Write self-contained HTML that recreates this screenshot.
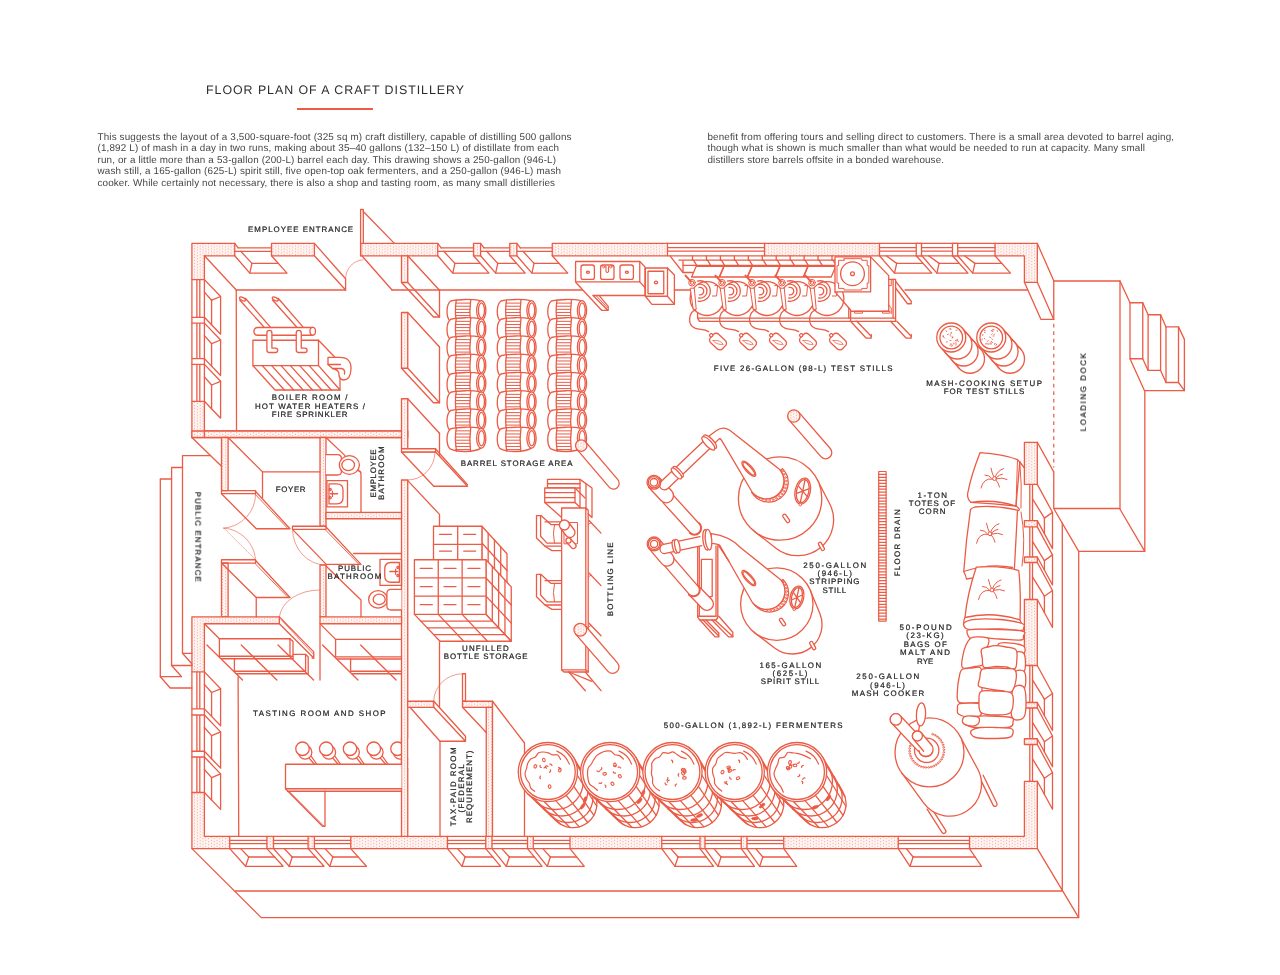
<!DOCTYPE html>
<html><head><meta charset="utf-8"><title>Floor plan of a craft distillery</title>
<style>
html,body{margin:0;padding:0;background:#fff}
body{width:1280px;height:975px;position:relative;overflow:hidden;font-family:"Liberation Sans",sans-serif;color:#333}
.title{opacity:.99;text-rendering:geometricPrecision;position:absolute;left:206px;top:82px;font-size:12.4px;letter-spacing:0.97px;color:#2b2b2b;white-space:nowrap;line-height:14px}
.rule{position:absolute;left:297px;top:108.4px;width:76px;height:1.6px;background:#EB5B45}
.body{opacity:.99;text-rendering:geometricPrecision;position:absolute;top:130.6px;font-size:9.9px;letter-spacing:0.14px;line-height:11.3px;color:#444;white-space:nowrap}
svg{position:absolute;left:0;top:0}
svg text{font-family:"Liberation Sans",sans-serif}
</style></head><body>
<div class="rule"></div>
<svg width="1280" height="975" viewBox="0 0 1280 975">
<defs>
<pattern id="dots" width="5.6" height="2.9" patternUnits="userSpaceOnUse"><rect width="5.6" height="2.9" fill="#fff4f1"/><circle cx="1.4" cy="0.72" r="0.47" fill="#EB5B45"/><circle cx="4.2" cy="2.17" r="0.47" fill="#EB5B45"/></pattern>
</defs>
<g fill="none" stroke="#EB5B45" stroke-width="1.3" stroke-linejoin="round" stroke-linecap="round">
<polygon points="191.9,243.4 234.75,243.4 234.75,255.8 204.4,255.8 204.4,279.6 191.9,279.6" fill="url(#dots)"/>
<polygon points="271.5,243.4 314.4,243.4 314.4,255.8 271.5,255.8" fill="url(#dots)"/>
<polygon points="360.6,243.4 437.75,243.4 437.75,255.8 360.6,255.8" fill="url(#dots)"/>
<polygon points="552.25,243.4 667.5,243.4 667.5,255.8 552.25,255.8" fill="url(#dots)"/>
<polygon points="764.5,243.4 879.5,243.4 879.5,255.8 764.5,255.8" fill="url(#dots)"/>
<polygon points="995,243.4 1037.3,243.4 1037.3,282.3 1024.4,282.3 1024.4,255.8 995,255.8" fill="url(#dots)"/>
<path d="M234.75 243.4L238.15 247.9"/>
<path d="M238.15 247.9L271.5 247.9"/>
<path d="M234.75 251.3L271.5 251.3"/>
<polyline points="234.75,255.8 249.75,273.1 287,273.1 271.5,255.8"/>
<path d="M240.75 251.3L251.95 263.4"/>
<path d="M251.95 263.4L278.2 263.4"/>
<path d="M251.95 263.4L249.75 273.1"/>
<path d="M437.75 243.4L441.15 247.9"/>
<path d="M441.15 247.9L473.5 247.9"/>
<path d="M437.75 251.3L473.5 251.3"/>
<polyline points="437.75,255.8 452.75,273.1 489,273.1 473.5,255.8"/>
<path d="M443.75 251.3L454.95 263.4"/>
<path d="M454.95 263.4L480.2 263.4"/>
<path d="M454.95 263.4L452.75 273.1"/>
<path d="M480.6 243.4L484 247.9"/>
<path d="M484 247.9L509.75 247.9"/>
<path d="M480.6 251.3L509.75 251.3"/>
<polyline points="480.6,255.8 495.6,273.1 525.25,273.1 509.75,255.8"/>
<path d="M486.6 251.3L497.8 263.4"/>
<path d="M497.8 263.4L516.45 263.4"/>
<path d="M497.8 263.4L495.6 273.1"/>
<path d="M516.9 243.4L520.3 247.9"/>
<path d="M520.3 247.9L552.25 247.9"/>
<path d="M516.9 251.3L552.25 251.3"/>
<polyline points="516.9,255.8 531.9,273.1 567.75,273.1 552.25,255.8"/>
<path d="M522.9 251.3L534.1 263.4"/>
<path d="M534.1 263.4L558.95 263.4"/>
<path d="M534.1 263.4L531.9 273.1"/>
<polygon points="473.5,243.4 480.6,243.4 480.6,255.8 473.5,255.8" fill="url(#dots)"/>
<polygon points="509.75,243.4 516.9,243.4 516.9,255.8 509.75,255.8" fill="url(#dots)"/>
<path d="M667.5 243.4L764.5 243.4"/>
<path d="M667.5 247.6L764.5 247.6"/>
<path d="M667.5 251.1L764.5 251.1"/>
<path d="M667.5 255.8L764.5 255.8"/>
<path d="M879.5 243.4L995 243.4"/>
<path d="M879.5 247.6L995 247.6"/>
<path d="M879.5 251.1L995 251.1"/>
<path d="M879.5 255.8L995 255.8"/>
<polygon points="916.25,243.4 921.5,243.4 921.5,255.8 916.25,255.8" fill="#fff"/>
<polygon points="952.5,243.4 957.7,243.4 957.7,255.8 952.5,255.8" fill="#fff"/>
<polygon points="191.9,401.3 204.4,401.3 204.4,437.5 191.9,437.5" fill="url(#dots)"/>
<path d="M191.9 279.6L191.9 317.3"/>
<path d="M196.9 279.6L196.9 317.3"/>
<path d="M199.8 279.6L199.8 317.3"/>
<path d="M204.4 279.6L204.4 317.3"/>
<polyline points="204.4,279.6 220.6,296.5 220.6,334.2 204.4,317.3"/>
<path d="M204.4 292.1L211.6 300.2"/>
<path d="M211.6 300.2L220.6 296.5"/>
<path d="M211.6 300.2L211.6 324.8"/>
<path d="M191.9 323.1L191.9 358.6"/>
<path d="M196.9 323.1L196.9 358.6"/>
<path d="M199.8 323.1L199.8 358.6"/>
<path d="M204.4 323.1L204.4 358.6"/>
<polyline points="204.4,323.1 220.6,340 220.6,375.5 204.4,358.6"/>
<path d="M204.4 335.6L211.6 343.7"/>
<path d="M211.6 343.7L220.6 340"/>
<path d="M211.6 343.7L211.6 366.1"/>
<path d="M191.9 364.4L191.9 401.3"/>
<path d="M196.9 364.4L196.9 401.3"/>
<path d="M199.8 364.4L199.8 401.3"/>
<path d="M204.4 364.4L204.4 401.3"/>
<polyline points="204.4,364.4 220.6,381.3 220.6,418.2 204.4,401.3"/>
<path d="M204.4 376.9L211.6 385"/>
<path d="M211.6 385L220.6 381.3"/>
<path d="M211.6 385L211.6 408.8"/>
<polygon points="191.9,317.3 204.4,317.3 204.4,323.1 191.9,323.1" fill="#fff"/>
<polygon points="191.9,358.6 204.4,358.6 204.4,364.4 191.9,364.4" fill="#fff"/>
<path d="M191.9 671.9L191.9 708.9"/>
<path d="M196.9 671.9L196.9 708.9"/>
<path d="M199.8 671.9L199.8 708.9"/>
<path d="M204.4 671.9L204.4 708.9"/>
<polyline points="204.4,671.9 220.6,688.8 220.6,725.8 204.4,708.9"/>
<path d="M204.4 684.4L211.6 692.5"/>
<path d="M211.6 692.5L220.6 688.8"/>
<path d="M211.6 692.5L211.6 716.4"/>
<path d="M191.9 715L191.9 751.25"/>
<path d="M196.9 715L196.9 751.25"/>
<path d="M199.8 715L199.8 751.25"/>
<path d="M204.4 715L204.4 751.25"/>
<polyline points="204.4,715 220.6,731.9 220.6,768.15 204.4,751.25"/>
<path d="M204.4 727.5L211.6 735.6"/>
<path d="M211.6 735.6L220.6 731.9"/>
<path d="M211.6 735.6L211.6 758.75"/>
<path d="M191.9 757L191.9 792.5"/>
<path d="M196.9 757L196.9 792.5"/>
<path d="M199.8 757L199.8 792.5"/>
<path d="M204.4 757L204.4 792.5"/>
<polyline points="204.4,757 220.6,773.9 220.6,809.4 204.4,792.5"/>
<path d="M204.4 769.5L211.6 777.6"/>
<path d="M211.6 777.6L220.6 773.9"/>
<path d="M211.6 777.6L211.6 800"/>
<polygon points="191.9,708.9 204.4,708.9 204.4,715 191.9,715" fill="#fff"/>
<polygon points="191.9,751.25 204.4,751.25 204.4,757 191.9,757" fill="#fff"/>
<polygon points="191.9,792.5 204.4,792.5 204.4,836.3 229.75,836.3 229.75,848.6 191.9,848.6" fill="url(#dots)"/>
<path d="M229.75 836.3L266.9 836.3"/>
<path d="M229.75 840.3L266.9 840.3"/>
<path d="M229.75 843.7L266.9 843.7"/>
<path d="M229.75 848.6L266.9 848.6"/>
<polyline points="229.75,848.6 245.65,866.3 283.1,866.3 266.9,848.6"/>
<path d="M240.64 848.6L248.75 857"/>
<path d="M248.75 857L274.53 857"/>
<path d="M248.75 857L245.65 866.3"/>
<path d="M273.5 836.3L308.1 836.3"/>
<path d="M273.5 840.3L308.1 840.3"/>
<path d="M273.5 843.7L308.1 843.7"/>
<path d="M273.5 848.6L308.1 848.6"/>
<polyline points="273.5,848.6 289.13,866.3 324.03,866.3 308.1,848.6"/>
<path d="M284.21 848.6L292.23 857"/>
<path d="M292.23 857L315.6 857"/>
<path d="M292.23 857L289.13 866.3"/>
<path d="M314.4 836.3L350.75 836.3"/>
<path d="M314.4 840.3L350.75 840.3"/>
<path d="M314.4 843.7L350.75 843.7"/>
<path d="M314.4 848.6L350.75 848.6"/>
<polyline points="314.4,848.6 329.78,866.3 366.43,866.3 350.75,848.6"/>
<path d="M324.93 848.6L332.88 857"/>
<path d="M332.88 857L358.13 857"/>
<path d="M332.88 857L329.78 866.3"/>
<path d="M447.5 836.3L485.75 836.3"/>
<path d="M447.5 840.3L485.75 840.3"/>
<path d="M447.5 843.7L485.75 843.7"/>
<path d="M447.5 848.6L485.75 848.6"/>
<polyline points="447.5,848.6 462.05,866.3 500.6,866.3 485.75,848.6"/>
<path d="M457.47 848.6L465.15 857"/>
<path d="M465.15 857L492.73 857"/>
<path d="M465.15 857L462.05 866.3"/>
<path d="M492 836.3L527.5 836.3"/>
<path d="M492 840.3L527.5 840.3"/>
<path d="M492 843.7L527.5 843.7"/>
<path d="M492 848.6L527.5 848.6"/>
<polyline points="492,848.6 506.28,866.3 542.08,866.3 527.5,848.6"/>
<path d="M501.78 848.6L509.38 857"/>
<path d="M509.38 857L534.35 857"/>
<path d="M509.38 857L506.28 866.3"/>
<path d="M533.25 836.3L570 836.3"/>
<path d="M533.25 840.3L570 840.3"/>
<path d="M533.25 843.7L570 843.7"/>
<path d="M533.25 848.6L570 848.6"/>
<polyline points="533.25,848.6 547.27,866.3 584.32,866.3 570,848.6"/>
<path d="M542.85 848.6L550.37 857"/>
<path d="M550.37 857L576.73 857"/>
<path d="M550.37 857L547.27 866.3"/>
<path d="M661.75 836.3L700 836.3"/>
<path d="M661.75 840.3L700 840.3"/>
<path d="M661.75 843.7L700 843.7"/>
<path d="M661.75 848.6L700 848.6"/>
<polyline points="661.75,848.6 674.97,866.3 713.52,866.3 700,848.6"/>
<path d="M670.81 848.6L678.07 857"/>
<path d="M678.07 857L706.35 857"/>
<path d="M678.07 857L674.97 866.3"/>
<path d="M705 836.3L741.25 836.3"/>
<path d="M705 840.3L741.25 840.3"/>
<path d="M705 843.7L741.25 843.7"/>
<path d="M705 848.6L741.25 848.6"/>
<polyline points="705,848.6 717.96,866.3 754.5,866.3 741.25,848.6"/>
<path d="M713.87 848.6L721.06 857"/>
<path d="M721.06 857L747.47 857"/>
<path d="M721.06 857L717.96 866.3"/>
<path d="M747 836.3L783.75 836.3"/>
<path d="M747 840.3L783.75 840.3"/>
<path d="M747 843.7L783.75 843.7"/>
<path d="M747 848.6L783.75 848.6"/>
<polyline points="747,848.6 759.69,866.3 796.74,866.3 783.75,848.6"/>
<path d="M755.7 848.6L762.79 857"/>
<path d="M762.79 857L789.84 857"/>
<path d="M762.79 857L759.69 866.3"/>
<path d="M898.25 836.3L969.5 836.3"/>
<path d="M898.25 840.3L969.5 840.3"/>
<path d="M898.25 843.7L969.5 843.7"/>
<path d="M898.25 848.6L969.5 848.6"/>
<polyline points="898.25,848.6 910.01,866.3 981.56,866.3 969.5,848.6"/>
<path d="M906.3 848.6L913.11 857"/>
<path d="M913.11 857L975.14 857"/>
<path d="M913.11 857L910.01 866.3"/>
<polygon points="266.9,836.3 273.5,836.3 273.5,848.6 266.9,848.6" fill="url(#dots)"/>
<polygon points="308.1,836.3 314.4,836.3 314.4,848.6 308.1,848.6" fill="url(#dots)"/>
<polygon points="485.75,836.3 492,836.3 492,848.6 485.75,848.6" fill="url(#dots)"/>
<polygon points="527.5,836.3 533.25,836.3 533.25,848.6 527.5,848.6" fill="url(#dots)"/>
<polygon points="700,836.3 705,836.3 705,848.6 700,848.6" fill="url(#dots)"/>
<polygon points="741.25,836.3 747,836.3 747,848.6 741.25,848.6" fill="url(#dots)"/>
<polygon points="350.75,836.3 447.5,836.3 447.5,848.6 350.75,848.6" fill="url(#dots)"/>
<polygon points="570,836.3 661.75,836.3 661.75,848.6 570,848.6" fill="url(#dots)"/>
<polygon points="783.75,836.3 898.25,836.3 898.25,848.6 783.75,848.6" fill="url(#dots)"/>
<polygon points="969.5,836.3 1024.4,836.3 1024.4,781.3 1037.3,781.3 1037.3,848.6 969.5,848.6" fill="url(#dots)"/>
<polygon points="1024.4,442.3 1037.3,442.3 1037.3,484.4 1024.4,484.4" fill="url(#dots)"/>
<path d="M1029.8 484.4L1029.8 520.6"/>
<path d="M1032.5 484.4L1032.5 520.6"/>
<polyline points="1037.3,484.4 1052.5,512.4 1052.5,548.6 1037.3,520.6"/>
<path d="M1032.5 498.8L1044.4 518.1"/>
<path d="M1044.4 518.1L1052.5 512.4"/>
<path d="M1044.4 518.1L1044.4 533.8"/>
<path d="M1029.8 526.9L1029.8 557"/>
<path d="M1032.5 526.9L1032.5 557"/>
<polyline points="1037.3,526.9 1052.5,554.9 1052.5,585 1037.3,557"/>
<path d="M1032.5 541.3L1044.4 560.6"/>
<path d="M1044.4 560.6L1052.5 554.9"/>
<path d="M1044.4 560.6L1044.4 570.2"/>
<path d="M1029.8 562.5L1029.8 599.5"/>
<path d="M1032.5 562.5L1032.5 599.5"/>
<polyline points="1037.3,562.5 1052.5,590.5 1052.5,627.5 1037.3,599.5"/>
<path d="M1032.5 576.9L1044.4 596.2"/>
<path d="M1044.4 596.2L1052.5 590.5"/>
<path d="M1044.4 596.2L1044.4 612.7"/>
<polygon points="1024.4,520.6 1037.3,520.6 1037.3,526.9 1024.4,526.9" fill="url(#dots)"/>
<polygon points="1024.4,557 1037.3,557 1037.3,562.5 1024.4,562.5" fill="url(#dots)"/>
<polygon points="1024.4,599.5 1037.3,599.5 1037.3,665.5 1024.4,665.5" fill="url(#dots)"/>
<path d="M1029.8 665.5L1029.8 702.5"/>
<path d="M1032.5 665.5L1032.5 702.5"/>
<polyline points="1037.3,665.5 1052.5,693.5 1052.5,730.5 1037.3,702.5"/>
<path d="M1032.5 679.9L1044.4 699.2"/>
<path d="M1044.4 699.2L1052.5 693.5"/>
<path d="M1044.4 699.2L1044.4 715.7"/>
<path d="M1029.8 708L1029.8 738.75"/>
<path d="M1032.5 708L1032.5 738.75"/>
<polyline points="1037.3,708 1052.5,736 1052.5,766.75 1037.3,738.75"/>
<path d="M1032.5 722.4L1044.4 741.7"/>
<path d="M1044.4 741.7L1052.5 736"/>
<path d="M1044.4 741.7L1044.4 751.95"/>
<path d="M1029.8 744.5L1029.8 781.3"/>
<path d="M1032.5 744.5L1032.5 781.3"/>
<polyline points="1037.3,744.5 1052.5,772.5 1052.5,809.3 1037.3,781.3"/>
<path d="M1032.5 758.9L1044.4 778.2"/>
<path d="M1044.4 778.2L1052.5 772.5"/>
<path d="M1044.4 778.2L1044.4 794.5"/>
<polygon points="1024.4,702.5 1037.3,702.5 1037.3,708 1024.4,708" fill="url(#dots)"/>
<polygon points="1024.4,738.75 1037.3,738.75 1037.3,744.5 1024.4,744.5" fill="url(#dots)"/>
<polyline points="191.9,848.6 261.25,917.6 1078.7,917.6 1078.7,551.3"/>
<polyline points="235,891 1062.3,891 1062.3,523"/>
<path d="M1037.3 848.6L1078.7 917.6"/>
<path d="M204.4 255.8L236.25 290"/>
<polyline points="345.6,290 236.25,290 236.5,431"/>
<polyline points="314.4,243.4 345.6,278.75 345.6,290 314.4,255.8"/>
<polyline points="360.6,255.8 360.6,209.5 363.3,209.5 363.3,243.4"/>
<path d="M363.3 211.5L394.4 243.4"/>
<path d="M345.6 278.75A18 19 0 0 1 363 259.8" stroke-width="0.6"/>
<path d="M361.9 255.8L392 290"/>
<polygon points="204.4,431 401.5,431 401.5,437.5 191.9,437.5 191.9,431" fill="url(#dots)"/>
<polygon points="204.4,431 407.75,431 407.75,437.5 204.4,437.5" fill="url(#dots)"/>
<polygon points="401.5,255.8 407.75,255.8 407.75,282.5 401.5,282.5" fill="url(#dots)"/>
<polygon points="401.5,312.5 407.75,312.5 407.75,368.25 401.5,368.25" fill="url(#dots)"/>
<polygon points="401.5,398.75 407.75,398.75 407.75,448.75 401.5,448.75" fill="url(#dots)"/>
<polygon points="401.5,480 407.75,480 407.75,836.3 401.5,836.3" fill="url(#dots)"/>
<path d="M407.75 255.8L439.5 290.3"/>
<path d="M439.5 290.3L439.5 317"/>
<polyline points="407.75,282.5 439.5,317 433.5,317 401.5,282.5"/>
<path d="M439.5 290L582 290"/>
<path d="M407.75 312.5L439.5 347"/>
<path d="M439.5 347L439.5 402.75"/>
<polyline points="407.75,368.25 439.5,402.75 433.5,402.75 401.5,368.25"/>
<path d="M407.75 398.75L439.5 433.25"/>
<path d="M439.5 433.25L439.5 483.25"/>
<polygon points="221.5,437.5 228.1,437.5 228.1,490.6 221.5,490.6" fill="url(#dots)"/>
<polygon points="221.5,563 228.1,563 228.1,616.9 221.5,616.9" fill="url(#dots)"/>
<path d="M191.9 437.5L221.5 466.25"/>
<polygon points="191.9,616.9 279.4,616.9 279.4,623.75 204.4,623.75 204.4,671.9 191.9,671.9" fill="url(#dots)"/>
<polygon points="320,437.5 326,437.5 326,526.25 320,526.25" fill="url(#dots)"/>
<polygon points="320,565 326,565 326,616.9 320,616.9" fill="url(#dots)"/>
<polygon points="326,512.4 401.5,512.4 401.5,518.75 326,518.75" fill="url(#dots)"/>
<polygon points="320,616.9 401.5,616.9 401.5,623.75 320,623.75" fill="url(#dots)"/>
<polygon points="407.75,701.25 433.75,701.25 433.75,707.3 407.75,707.3" fill="url(#dots)"/>
<polygon points="462.5,701.25 492.5,701.25 492.5,707.3 462.5,707.3" fill="url(#dots)"/>
<polygon points="486.25,707.3 492.5,707.3 492.5,836.3 486.25,836.3" fill="url(#dots)"/>
<polyline points="228.1,437.5 262.5,471.9 320,471.9"/>
<path d="M262.5 471.9L262.5 498"/>
<rect x="221.5" y="490.6" width="34.1" height="3.1"/>
<polyline points="221.5,493.7 256.25,528.75 290,528.75 255.6,491.5"/>
<path d="M254.6 493.7L288 528.75" stroke-width="0.9"/>
<path d="M255.6 493.7A34 34 0 0 1 223.75 528.1" stroke-width="0.6"/>
<path d="M223.75 528.1A34 34 0 0 1 255.6 559.75" stroke-width="0.6"/>
<path d="M223.75 528.1L255.6 559.75" stroke-width="0.5" stroke-dasharray="1.2 1.2"/>
<rect x="221.5" y="559.75" width="34.1" height="3.3"/>
<polyline points="221.5,563 256.25,597.5 290,597.5 255.6,560.5"/>
<path d="M254.6 563L288 597.5" stroke-width="0.9"/>
<polyline points="256.25,597.5 256.25,616.9"/>
<path d="M279.4 616.9A40 29 0 0 1 319.6 590" stroke-width="0.6"/>
<polyline points="210,455.6 182.5,455.6 182.5,653.3 192,664"/>
<path d="M182.5 653.3L192 653.3"/>
<polyline points="182.5,467.5 171.6,467.5 171.6,665.5 181.4,676.5"/>
<path d="M171.6 665.5L192 665.5"/>
<polyline points="171.6,479 160.3,479 160.3,676.7 170.2,688 192,688"/>
<path d="M160.3 676.7L181.4 676.7"/>
<path d="M326 437.5L345 455.6"/>
<path d="M326 454.6H337.5Q341.5 454.6 341.5 459V471Q341.5 475 337.5 475H326" fill="#fff"/>
<ellipse cx="349.4" cy="465" rx="10" ry="9.4" fill="#fff"/>
<ellipse cx="348.2" cy="465" rx="6.3" ry="5.6"/>
<path d="M358 470.5Q361 471 361 474V512.4"/>
<rect x="326.9" y="480.6" width="20.6" height="26.3"/>
<path d="M329 483.8H337Q343 483.8 343 490V497.5Q343 503.8 337 503.8H329Z"/>
<path d="M330.6 493.7L337.5 493.7" stroke-width="1.6"/>
<circle cx="330.2" cy="489.6" r="1.1"/>
<circle cx="330.2" cy="497.8" r="1.1"/>
<path d="M332.5 491L332.5 496.4" stroke-width="1.2"/>
<polygon points="401.5,452 435.6,452 467.5,486.25 433.75,486.25" fill="#fff"/>
<path d="M435.6 449L467.5 484.6"/>
<rect x="401.5" y="448.75" width="34.1" height="3.2" fill="#fff"/>
<path d="M435 452A27 28 0 0 1 408 480" stroke-width="0.6"/>
<polyline points="407.75,480.6 439.5,514.4 439.5,526.25"/>
<path d="M353.75 553.5L401.5 553.5"/>
<rect x="292.5" y="526.25" width="33.5" height="3.1"/>
<polyline points="292.5,529.4 326.25,564.4 361,564.4 326,527"/>
<path d="M325 529.4L359 564.4" stroke-width="0.9"/>
<path d="M292.5 529.4A33 36 0 0 0 326 565" stroke-width="0.6"/>
<polyline points="326,566 361,600 361,616.9"/>
<rect x="380" y="559.4" width="21.5" height="26"/>
<path d="M399.4 562.5H391Q384.75 562.5 384.75 569V576Q384.75 582.25 391 582.25H399.4Z"/>
<path d="M390 571.5L397.5 571.5" stroke-width="1.6"/>
<circle cx="397.9" cy="567.6" r="1.1"/>
<circle cx="397.9" cy="575.6" r="1.1"/>
<path d="M395.6 569L395.6 574.3" stroke-width="1.2"/>
<ellipse cx="378" cy="599.4" rx="9.4" ry="8.75" fill="#fff"/>
<ellipse cx="379.2" cy="599.4" rx="6" ry="5.25"/>
<path d="M401.5 589.4H391Q386.9 589.4 386.9 593.5V606Q386.9 610 391 610H401.5" fill="#fff"/>
<polyline points="279.4,616.9 313.75,651.9 313.75,658 279.4,623.75"/>
<path d="M281.5 620L313.75 654.5" stroke-width="0.8"/>
<path d="M312 658L313.75 658"/>
<path d="M204.4 623.75L219.4 638.75"/>
<polyline points="219.4,656.25 219.4,638.75 290,638.75 290,656.25"/>
<polyline points="290,638.75 293,641.5 293,658.75"/>
<path d="M219.4 656.25L293 656.25"/>
<path d="M221.5 658.75L293 658.75"/>
<polyline points="234.4,658.75 234.4,671.25 305.6,671.25 305.6,654.4 293,654.4"/>
<polyline points="305.6,654.4 308.2,657 308.2,673.75 236.5,673.75"/>
<path d="M206.9 645L242.5 680"/>
<path d="M241.25 645L276.85 680"/>
<path d="M278 645L313.6 680"/>
<path d="M238.1 677L238.75 836.3"/>
<path d="M320 623.75L320 680"/>
<path d="M320.6 624.4L335.6 639.4"/>
<polyline points="401.5,639.4 335.6,639.4 335.6,656.9 401.5,656.9"/>
<path d="M337.5 659L401.5 659"/>
<polyline points="350.6,659 350.6,671.25 401.5,671.25"/>
<path d="M352.5 673.75L401.5 673.75"/>
<path d="M322.5 645L358 680"/>
<path d="M360.6 645L396.1 680"/>
<path d="M308.7 757.55L314.3 764.25"/>
<path d="M310.9 755.75L316.8 764.25"/>
<circle cx="305.1" cy="752.35" r="6.75" fill="#fff"/>
<circle cx="302.5" cy="748.75" r="6.75" fill="#fff"/>
<path d="M332.45 757.55L338.05 764.25"/>
<path d="M334.65 755.75L340.55 764.25"/>
<circle cx="328.85" cy="752.35" r="6.75" fill="#fff"/>
<circle cx="326.25" cy="748.75" r="6.75" fill="#fff"/>
<path d="M356.2 757.55L361.8 764.25"/>
<path d="M358.4 755.75L364.3 764.25"/>
<circle cx="352.6" cy="752.35" r="6.75" fill="#fff"/>
<circle cx="350" cy="748.75" r="6.75" fill="#fff"/>
<path d="M379.95 757.55L385.55 764.25"/>
<path d="M382.15 755.75L388.05 764.25"/>
<circle cx="376.35" cy="752.35" r="6.75" fill="#fff"/>
<circle cx="373.75" cy="748.75" r="6.75" fill="#fff"/>
<path d="M403.7 757.55L409.3 764.25"/>
<path d="M405.9 755.75L411.8 764.25"/>
<circle cx="400.1" cy="752.35" r="6.75" fill="#fff"/>
<circle cx="397.5" cy="748.75" r="6.75" fill="#fff"/>
<rect x="401.5" y="738" width="6.25" height="30" fill="url(#dots)" stroke="none"/>
<path d="M401.5 738L401.5 768"/>
<path d="M407.75 738L407.75 768"/>
<rect x="408.4" y="738" width="8" height="30" fill="#fff" stroke="none"/>
<polyline points="401.5,764.25 285.5,764.25 285.5,788.75 401.5,788.75" fill="#fff"/>
<path d="M287.5 791.25L401.5 791.25"/>
<polyline points="285.5,788.75 322.5,826.25 325,826.25 325,791.25"/>
<path d="M289 791.25L324 826.25" stroke-width="0.8"/>
<polyline points="410,707.3 440,741.25 465.5,741.25 433.75,707.3"/>
<polyline points="433.75,701.25 465.5,736.25 465.5,741.25"/>
<path d="M440 741.25L440 836.3"/>
<rect x="462.5" y="673.75" width="3" height="27.5"/>
<path d="M433.75 701.25A28.75 27.5 0 0 1 462.5 673.75" stroke-width="0.6"/>
<path d="M462.5 707.3L486.25 732.5"/>
<polyline points="492.5,701.25 524.5,743 524.5,836.3"/>
<path d="M439.5 641.9L439.5 707"/>
<path d="M450.75 301C458.25 299 473.25 299 480.75 300.8L481.25 320.4C474.25 324.6 457.25 325 449.75 320.9C445.95 316.4 445.95 304.4 450.75 301Z" fill="#fff"/>
<ellipse cx="481.25" cy="310.5" rx="4.6" ry="9.9" fill="#fff"/>
<ellipse cx="481.45" cy="310.5" rx="3" ry="7.6"/>
<path d="M456.25 300.2Q454.45 311.4 456.55 323.4"/>
<path d="M470.75 299.7Q469.05 311.4 470.55 323.7"/>
<path d="M455.75 303.1L469.95 303.1" stroke-width="1"/>
<path d="M455.75 306.22L469.95 306.22" stroke-width="1"/>
<path d="M455.75 309.34L469.95 309.34" stroke-width="1"/>
<path d="M455.75 312.46L469.95 312.46" stroke-width="1"/>
<path d="M455.75 315.58L469.95 315.58" stroke-width="1"/>
<path d="M455.75 318.7L469.95 318.7" stroke-width="1"/>
<path d="M455.75 321.82L469.95 321.82" stroke-width="1"/>
<path d="M450.75 319.25C458.25 317.25 473.25 317.25 480.75 319.05L481.25 338.65C474.25 342.85 457.25 343.25 449.75 339.15C445.95 334.65 445.95 322.65 450.75 319.25Z" fill="#fff"/>
<ellipse cx="481.25" cy="328.75" rx="4.6" ry="9.9" fill="#fff"/>
<ellipse cx="481.45" cy="328.75" rx="3" ry="7.6"/>
<path d="M456.25 318.45Q454.45 329.65 456.55 341.65"/>
<path d="M470.75 317.95Q469.05 329.65 470.55 341.95"/>
<path d="M455.75 321.35L469.95 321.35" stroke-width="1"/>
<path d="M455.75 324.47L469.95 324.47" stroke-width="1"/>
<path d="M455.75 327.59L469.95 327.59" stroke-width="1"/>
<path d="M455.75 330.71L469.95 330.71" stroke-width="1"/>
<path d="M455.75 333.83L469.95 333.83" stroke-width="1"/>
<path d="M455.75 336.95L469.95 336.95" stroke-width="1"/>
<path d="M455.75 340.07L469.95 340.07" stroke-width="1"/>
<path d="M450.75 337.5C458.25 335.5 473.25 335.5 480.75 337.3L481.25 356.9C474.25 361.1 457.25 361.5 449.75 357.4C445.95 352.9 445.95 340.9 450.75 337.5Z" fill="#fff"/>
<ellipse cx="481.25" cy="347" rx="4.6" ry="9.9" fill="#fff"/>
<ellipse cx="481.45" cy="347" rx="3" ry="7.6"/>
<path d="M456.25 336.7Q454.45 347.9 456.55 359.9"/>
<path d="M470.75 336.2Q469.05 347.9 470.55 360.2"/>
<path d="M455.75 339.6L469.95 339.6" stroke-width="1"/>
<path d="M455.75 342.72L469.95 342.72" stroke-width="1"/>
<path d="M455.75 345.84L469.95 345.84" stroke-width="1"/>
<path d="M455.75 348.96L469.95 348.96" stroke-width="1"/>
<path d="M455.75 352.08L469.95 352.08" stroke-width="1"/>
<path d="M455.75 355.2L469.95 355.2" stroke-width="1"/>
<path d="M455.75 358.32L469.95 358.32" stroke-width="1"/>
<path d="M450.75 355.75C458.25 353.75 473.25 353.75 480.75 355.55L481.25 375.15C474.25 379.35 457.25 379.75 449.75 375.65C445.95 371.15 445.95 359.15 450.75 355.75Z" fill="#fff"/>
<ellipse cx="481.25" cy="365.25" rx="4.6" ry="9.9" fill="#fff"/>
<ellipse cx="481.45" cy="365.25" rx="3" ry="7.6"/>
<path d="M456.25 354.95Q454.45 366.15 456.55 378.15"/>
<path d="M470.75 354.45Q469.05 366.15 470.55 378.45"/>
<path d="M455.75 357.85L469.95 357.85" stroke-width="1"/>
<path d="M455.75 360.97L469.95 360.97" stroke-width="1"/>
<path d="M455.75 364.09L469.95 364.09" stroke-width="1"/>
<path d="M455.75 367.21L469.95 367.21" stroke-width="1"/>
<path d="M455.75 370.33L469.95 370.33" stroke-width="1"/>
<path d="M455.75 373.45L469.95 373.45" stroke-width="1"/>
<path d="M455.75 376.57L469.95 376.57" stroke-width="1"/>
<path d="M450.75 374C458.25 372 473.25 372 480.75 373.8L481.25 393.4C474.25 397.6 457.25 398 449.75 393.9C445.95 389.4 445.95 377.4 450.75 374Z" fill="#fff"/>
<ellipse cx="481.25" cy="383.5" rx="4.6" ry="9.9" fill="#fff"/>
<ellipse cx="481.45" cy="383.5" rx="3" ry="7.6"/>
<path d="M456.25 373.2Q454.45 384.4 456.55 396.4"/>
<path d="M470.75 372.7Q469.05 384.4 470.55 396.7"/>
<path d="M455.75 376.1L469.95 376.1" stroke-width="1"/>
<path d="M455.75 379.22L469.95 379.22" stroke-width="1"/>
<path d="M455.75 382.34L469.95 382.34" stroke-width="1"/>
<path d="M455.75 385.46L469.95 385.46" stroke-width="1"/>
<path d="M455.75 388.58L469.95 388.58" stroke-width="1"/>
<path d="M455.75 391.7L469.95 391.7" stroke-width="1"/>
<path d="M455.75 394.82L469.95 394.82" stroke-width="1"/>
<path d="M450.75 392.25C458.25 390.25 473.25 390.25 480.75 392.05L481.25 411.65C474.25 415.85 457.25 416.25 449.75 412.15C445.95 407.65 445.95 395.65 450.75 392.25Z" fill="#fff"/>
<ellipse cx="481.25" cy="401.75" rx="4.6" ry="9.9" fill="#fff"/>
<ellipse cx="481.45" cy="401.75" rx="3" ry="7.6"/>
<path d="M456.25 391.45Q454.45 402.65 456.55 414.65"/>
<path d="M470.75 390.95Q469.05 402.65 470.55 414.95"/>
<path d="M455.75 394.35L469.95 394.35" stroke-width="1"/>
<path d="M455.75 397.47L469.95 397.47" stroke-width="1"/>
<path d="M455.75 400.59L469.95 400.59" stroke-width="1"/>
<path d="M455.75 403.71L469.95 403.71" stroke-width="1"/>
<path d="M455.75 406.83L469.95 406.83" stroke-width="1"/>
<path d="M455.75 409.95L469.95 409.95" stroke-width="1"/>
<path d="M455.75 413.07L469.95 413.07" stroke-width="1"/>
<path d="M450.75 410.5C458.25 408.5 473.25 408.5 480.75 410.3L481.25 429.9C474.25 434.1 457.25 434.5 449.75 430.4C445.95 425.9 445.95 413.9 450.75 410.5Z" fill="#fff"/>
<ellipse cx="481.25" cy="420" rx="4.6" ry="9.9" fill="#fff"/>
<ellipse cx="481.45" cy="420" rx="3" ry="7.6"/>
<path d="M456.25 409.7Q454.45 420.9 456.55 432.9"/>
<path d="M470.75 409.2Q469.05 420.9 470.55 433.2"/>
<path d="M455.75 412.6L469.95 412.6" stroke-width="1"/>
<path d="M455.75 415.72L469.95 415.72" stroke-width="1"/>
<path d="M455.75 418.84L469.95 418.84" stroke-width="1"/>
<path d="M455.75 421.96L469.95 421.96" stroke-width="1"/>
<path d="M455.75 425.08L469.95 425.08" stroke-width="1"/>
<path d="M455.75 428.2L469.95 428.2" stroke-width="1"/>
<path d="M455.75 431.32L469.95 431.32" stroke-width="1"/>
<path d="M450.75 428.75C458.25 426.75 473.25 426.75 480.75 428.55L481.25 448.15C474.25 452.35 457.25 452.75 449.75 448.65C445.95 444.15 445.95 432.15 450.75 428.75Z" fill="#fff"/>
<ellipse cx="481.25" cy="438.25" rx="4.6" ry="9.9" fill="#fff"/>
<ellipse cx="481.45" cy="438.25" rx="3" ry="7.6"/>
<path d="M456.25 427.95Q454.45 439.15 456.55 451.15"/>
<path d="M470.75 427.45Q469.05 439.15 470.55 451.45"/>
<path d="M455.75 430.85L469.95 430.85" stroke-width="1"/>
<path d="M455.75 433.97L469.95 433.97" stroke-width="1"/>
<path d="M455.75 437.09L469.95 437.09" stroke-width="1"/>
<path d="M455.75 440.21L469.95 440.21" stroke-width="1"/>
<path d="M455.75 443.33L469.95 443.33" stroke-width="1"/>
<path d="M455.75 446.45L469.95 446.45" stroke-width="1"/>
<path d="M455.75 449.57L469.95 449.57" stroke-width="1"/>
<path d="M501 301C508.5 299 523.5 299 531 300.8L531.5 320.4C524.5 324.6 507.5 325 500 320.9C496.2 316.4 496.2 304.4 501 301Z" fill="#fff"/>
<ellipse cx="531.5" cy="310.5" rx="4.6" ry="9.9" fill="#fff"/>
<ellipse cx="531.7" cy="310.5" rx="3" ry="7.6"/>
<path d="M506.5 300.2Q504.7 311.4 506.8 323.4"/>
<path d="M521 299.7Q519.3 311.4 520.8 323.7"/>
<path d="M506 303.1L520.2 303.1" stroke-width="1"/>
<path d="M506 306.22L520.2 306.22" stroke-width="1"/>
<path d="M506 309.34L520.2 309.34" stroke-width="1"/>
<path d="M506 312.46L520.2 312.46" stroke-width="1"/>
<path d="M506 315.58L520.2 315.58" stroke-width="1"/>
<path d="M506 318.7L520.2 318.7" stroke-width="1"/>
<path d="M506 321.82L520.2 321.82" stroke-width="1"/>
<path d="M501 319.25C508.5 317.25 523.5 317.25 531 319.05L531.5 338.65C524.5 342.85 507.5 343.25 500 339.15C496.2 334.65 496.2 322.65 501 319.25Z" fill="#fff"/>
<ellipse cx="531.5" cy="328.75" rx="4.6" ry="9.9" fill="#fff"/>
<ellipse cx="531.7" cy="328.75" rx="3" ry="7.6"/>
<path d="M506.5 318.45Q504.7 329.65 506.8 341.65"/>
<path d="M521 317.95Q519.3 329.65 520.8 341.95"/>
<path d="M506 321.35L520.2 321.35" stroke-width="1"/>
<path d="M506 324.47L520.2 324.47" stroke-width="1"/>
<path d="M506 327.59L520.2 327.59" stroke-width="1"/>
<path d="M506 330.71L520.2 330.71" stroke-width="1"/>
<path d="M506 333.83L520.2 333.83" stroke-width="1"/>
<path d="M506 336.95L520.2 336.95" stroke-width="1"/>
<path d="M506 340.07L520.2 340.07" stroke-width="1"/>
<path d="M501 337.5C508.5 335.5 523.5 335.5 531 337.3L531.5 356.9C524.5 361.1 507.5 361.5 500 357.4C496.2 352.9 496.2 340.9 501 337.5Z" fill="#fff"/>
<ellipse cx="531.5" cy="347" rx="4.6" ry="9.9" fill="#fff"/>
<ellipse cx="531.7" cy="347" rx="3" ry="7.6"/>
<path d="M506.5 336.7Q504.7 347.9 506.8 359.9"/>
<path d="M521 336.2Q519.3 347.9 520.8 360.2"/>
<path d="M506 339.6L520.2 339.6" stroke-width="1"/>
<path d="M506 342.72L520.2 342.72" stroke-width="1"/>
<path d="M506 345.84L520.2 345.84" stroke-width="1"/>
<path d="M506 348.96L520.2 348.96" stroke-width="1"/>
<path d="M506 352.08L520.2 352.08" stroke-width="1"/>
<path d="M506 355.2L520.2 355.2" stroke-width="1"/>
<path d="M506 358.32L520.2 358.32" stroke-width="1"/>
<path d="M501 355.75C508.5 353.75 523.5 353.75 531 355.55L531.5 375.15C524.5 379.35 507.5 379.75 500 375.65C496.2 371.15 496.2 359.15 501 355.75Z" fill="#fff"/>
<ellipse cx="531.5" cy="365.25" rx="4.6" ry="9.9" fill="#fff"/>
<ellipse cx="531.7" cy="365.25" rx="3" ry="7.6"/>
<path d="M506.5 354.95Q504.7 366.15 506.8 378.15"/>
<path d="M521 354.45Q519.3 366.15 520.8 378.45"/>
<path d="M506 357.85L520.2 357.85" stroke-width="1"/>
<path d="M506 360.97L520.2 360.97" stroke-width="1"/>
<path d="M506 364.09L520.2 364.09" stroke-width="1"/>
<path d="M506 367.21L520.2 367.21" stroke-width="1"/>
<path d="M506 370.33L520.2 370.33" stroke-width="1"/>
<path d="M506 373.45L520.2 373.45" stroke-width="1"/>
<path d="M506 376.57L520.2 376.57" stroke-width="1"/>
<path d="M501 374C508.5 372 523.5 372 531 373.8L531.5 393.4C524.5 397.6 507.5 398 500 393.9C496.2 389.4 496.2 377.4 501 374Z" fill="#fff"/>
<ellipse cx="531.5" cy="383.5" rx="4.6" ry="9.9" fill="#fff"/>
<ellipse cx="531.7" cy="383.5" rx="3" ry="7.6"/>
<path d="M506.5 373.2Q504.7 384.4 506.8 396.4"/>
<path d="M521 372.7Q519.3 384.4 520.8 396.7"/>
<path d="M506 376.1L520.2 376.1" stroke-width="1"/>
<path d="M506 379.22L520.2 379.22" stroke-width="1"/>
<path d="M506 382.34L520.2 382.34" stroke-width="1"/>
<path d="M506 385.46L520.2 385.46" stroke-width="1"/>
<path d="M506 388.58L520.2 388.58" stroke-width="1"/>
<path d="M506 391.7L520.2 391.7" stroke-width="1"/>
<path d="M506 394.82L520.2 394.82" stroke-width="1"/>
<path d="M501 392.25C508.5 390.25 523.5 390.25 531 392.05L531.5 411.65C524.5 415.85 507.5 416.25 500 412.15C496.2 407.65 496.2 395.65 501 392.25Z" fill="#fff"/>
<ellipse cx="531.5" cy="401.75" rx="4.6" ry="9.9" fill="#fff"/>
<ellipse cx="531.7" cy="401.75" rx="3" ry="7.6"/>
<path d="M506.5 391.45Q504.7 402.65 506.8 414.65"/>
<path d="M521 390.95Q519.3 402.65 520.8 414.95"/>
<path d="M506 394.35L520.2 394.35" stroke-width="1"/>
<path d="M506 397.47L520.2 397.47" stroke-width="1"/>
<path d="M506 400.59L520.2 400.59" stroke-width="1"/>
<path d="M506 403.71L520.2 403.71" stroke-width="1"/>
<path d="M506 406.83L520.2 406.83" stroke-width="1"/>
<path d="M506 409.95L520.2 409.95" stroke-width="1"/>
<path d="M506 413.07L520.2 413.07" stroke-width="1"/>
<path d="M501 410.5C508.5 408.5 523.5 408.5 531 410.3L531.5 429.9C524.5 434.1 507.5 434.5 500 430.4C496.2 425.9 496.2 413.9 501 410.5Z" fill="#fff"/>
<ellipse cx="531.5" cy="420" rx="4.6" ry="9.9" fill="#fff"/>
<ellipse cx="531.7" cy="420" rx="3" ry="7.6"/>
<path d="M506.5 409.7Q504.7 420.9 506.8 432.9"/>
<path d="M521 409.2Q519.3 420.9 520.8 433.2"/>
<path d="M506 412.6L520.2 412.6" stroke-width="1"/>
<path d="M506 415.72L520.2 415.72" stroke-width="1"/>
<path d="M506 418.84L520.2 418.84" stroke-width="1"/>
<path d="M506 421.96L520.2 421.96" stroke-width="1"/>
<path d="M506 425.08L520.2 425.08" stroke-width="1"/>
<path d="M506 428.2L520.2 428.2" stroke-width="1"/>
<path d="M506 431.32L520.2 431.32" stroke-width="1"/>
<path d="M501 428.75C508.5 426.75 523.5 426.75 531 428.55L531.5 448.15C524.5 452.35 507.5 452.75 500 448.65C496.2 444.15 496.2 432.15 501 428.75Z" fill="#fff"/>
<ellipse cx="531.5" cy="438.25" rx="4.6" ry="9.9" fill="#fff"/>
<ellipse cx="531.7" cy="438.25" rx="3" ry="7.6"/>
<path d="M506.5 427.95Q504.7 439.15 506.8 451.15"/>
<path d="M521 427.45Q519.3 439.15 520.8 451.45"/>
<path d="M506 430.85L520.2 430.85" stroke-width="1"/>
<path d="M506 433.97L520.2 433.97" stroke-width="1"/>
<path d="M506 437.09L520.2 437.09" stroke-width="1"/>
<path d="M506 440.21L520.2 440.21" stroke-width="1"/>
<path d="M506 443.33L520.2 443.33" stroke-width="1"/>
<path d="M506 446.45L520.2 446.45" stroke-width="1"/>
<path d="M506 449.57L520.2 449.57" stroke-width="1"/>
<path d="M551.5 301C559 299 574 299 581.5 300.8L582 320.4C575 324.6 558 325 550.5 320.9C546.7 316.4 546.7 304.4 551.5 301Z" fill="#fff"/>
<ellipse cx="582" cy="310.5" rx="4.6" ry="9.9" fill="#fff"/>
<ellipse cx="582.2" cy="310.5" rx="3" ry="7.6"/>
<path d="M557 300.2Q555.2 311.4 557.3 323.4"/>
<path d="M571.5 299.7Q569.8 311.4 571.3 323.7"/>
<path d="M556.5 303.1L570.7 303.1" stroke-width="1"/>
<path d="M556.5 306.22L570.7 306.22" stroke-width="1"/>
<path d="M556.5 309.34L570.7 309.34" stroke-width="1"/>
<path d="M556.5 312.46L570.7 312.46" stroke-width="1"/>
<path d="M556.5 315.58L570.7 315.58" stroke-width="1"/>
<path d="M556.5 318.7L570.7 318.7" stroke-width="1"/>
<path d="M556.5 321.82L570.7 321.82" stroke-width="1"/>
<path d="M551.5 319.25C559 317.25 574 317.25 581.5 319.05L582 338.65C575 342.85 558 343.25 550.5 339.15C546.7 334.65 546.7 322.65 551.5 319.25Z" fill="#fff"/>
<ellipse cx="582" cy="328.75" rx="4.6" ry="9.9" fill="#fff"/>
<ellipse cx="582.2" cy="328.75" rx="3" ry="7.6"/>
<path d="M557 318.45Q555.2 329.65 557.3 341.65"/>
<path d="M571.5 317.95Q569.8 329.65 571.3 341.95"/>
<path d="M556.5 321.35L570.7 321.35" stroke-width="1"/>
<path d="M556.5 324.47L570.7 324.47" stroke-width="1"/>
<path d="M556.5 327.59L570.7 327.59" stroke-width="1"/>
<path d="M556.5 330.71L570.7 330.71" stroke-width="1"/>
<path d="M556.5 333.83L570.7 333.83" stroke-width="1"/>
<path d="M556.5 336.95L570.7 336.95" stroke-width="1"/>
<path d="M556.5 340.07L570.7 340.07" stroke-width="1"/>
<path d="M551.5 337.5C559 335.5 574 335.5 581.5 337.3L582 356.9C575 361.1 558 361.5 550.5 357.4C546.7 352.9 546.7 340.9 551.5 337.5Z" fill="#fff"/>
<ellipse cx="582" cy="347" rx="4.6" ry="9.9" fill="#fff"/>
<ellipse cx="582.2" cy="347" rx="3" ry="7.6"/>
<path d="M557 336.7Q555.2 347.9 557.3 359.9"/>
<path d="M571.5 336.2Q569.8 347.9 571.3 360.2"/>
<path d="M556.5 339.6L570.7 339.6" stroke-width="1"/>
<path d="M556.5 342.72L570.7 342.72" stroke-width="1"/>
<path d="M556.5 345.84L570.7 345.84" stroke-width="1"/>
<path d="M556.5 348.96L570.7 348.96" stroke-width="1"/>
<path d="M556.5 352.08L570.7 352.08" stroke-width="1"/>
<path d="M556.5 355.2L570.7 355.2" stroke-width="1"/>
<path d="M556.5 358.32L570.7 358.32" stroke-width="1"/>
<path d="M551.5 355.75C559 353.75 574 353.75 581.5 355.55L582 375.15C575 379.35 558 379.75 550.5 375.65C546.7 371.15 546.7 359.15 551.5 355.75Z" fill="#fff"/>
<ellipse cx="582" cy="365.25" rx="4.6" ry="9.9" fill="#fff"/>
<ellipse cx="582.2" cy="365.25" rx="3" ry="7.6"/>
<path d="M557 354.95Q555.2 366.15 557.3 378.15"/>
<path d="M571.5 354.45Q569.8 366.15 571.3 378.45"/>
<path d="M556.5 357.85L570.7 357.85" stroke-width="1"/>
<path d="M556.5 360.97L570.7 360.97" stroke-width="1"/>
<path d="M556.5 364.09L570.7 364.09" stroke-width="1"/>
<path d="M556.5 367.21L570.7 367.21" stroke-width="1"/>
<path d="M556.5 370.33L570.7 370.33" stroke-width="1"/>
<path d="M556.5 373.45L570.7 373.45" stroke-width="1"/>
<path d="M556.5 376.57L570.7 376.57" stroke-width="1"/>
<path d="M551.5 374C559 372 574 372 581.5 373.8L582 393.4C575 397.6 558 398 550.5 393.9C546.7 389.4 546.7 377.4 551.5 374Z" fill="#fff"/>
<ellipse cx="582" cy="383.5" rx="4.6" ry="9.9" fill="#fff"/>
<ellipse cx="582.2" cy="383.5" rx="3" ry="7.6"/>
<path d="M557 373.2Q555.2 384.4 557.3 396.4"/>
<path d="M571.5 372.7Q569.8 384.4 571.3 396.7"/>
<path d="M556.5 376.1L570.7 376.1" stroke-width="1"/>
<path d="M556.5 379.22L570.7 379.22" stroke-width="1"/>
<path d="M556.5 382.34L570.7 382.34" stroke-width="1"/>
<path d="M556.5 385.46L570.7 385.46" stroke-width="1"/>
<path d="M556.5 388.58L570.7 388.58" stroke-width="1"/>
<path d="M556.5 391.7L570.7 391.7" stroke-width="1"/>
<path d="M556.5 394.82L570.7 394.82" stroke-width="1"/>
<path d="M551.5 392.25C559 390.25 574 390.25 581.5 392.05L582 411.65C575 415.85 558 416.25 550.5 412.15C546.7 407.65 546.7 395.65 551.5 392.25Z" fill="#fff"/>
<ellipse cx="582" cy="401.75" rx="4.6" ry="9.9" fill="#fff"/>
<ellipse cx="582.2" cy="401.75" rx="3" ry="7.6"/>
<path d="M557 391.45Q555.2 402.65 557.3 414.65"/>
<path d="M571.5 390.95Q569.8 402.65 571.3 414.95"/>
<path d="M556.5 394.35L570.7 394.35" stroke-width="1"/>
<path d="M556.5 397.47L570.7 397.47" stroke-width="1"/>
<path d="M556.5 400.59L570.7 400.59" stroke-width="1"/>
<path d="M556.5 403.71L570.7 403.71" stroke-width="1"/>
<path d="M556.5 406.83L570.7 406.83" stroke-width="1"/>
<path d="M556.5 409.95L570.7 409.95" stroke-width="1"/>
<path d="M556.5 413.07L570.7 413.07" stroke-width="1"/>
<path d="M551.5 410.5C559 408.5 574 408.5 581.5 410.3L582 429.9C575 434.1 558 434.5 550.5 430.4C546.7 425.9 546.7 413.9 551.5 410.5Z" fill="#fff"/>
<ellipse cx="582" cy="420" rx="4.6" ry="9.9" fill="#fff"/>
<ellipse cx="582.2" cy="420" rx="3" ry="7.6"/>
<path d="M557 409.7Q555.2 420.9 557.3 432.9"/>
<path d="M571.5 409.2Q569.8 420.9 571.3 433.2"/>
<path d="M556.5 412.6L570.7 412.6" stroke-width="1"/>
<path d="M556.5 415.72L570.7 415.72" stroke-width="1"/>
<path d="M556.5 418.84L570.7 418.84" stroke-width="1"/>
<path d="M556.5 421.96L570.7 421.96" stroke-width="1"/>
<path d="M556.5 425.08L570.7 425.08" stroke-width="1"/>
<path d="M556.5 428.2L570.7 428.2" stroke-width="1"/>
<path d="M556.5 431.32L570.7 431.32" stroke-width="1"/>
<path d="M551.5 428.75C559 426.75 574 426.75 581.5 428.55L582 448.15C575 452.35 558 452.75 550.5 448.65C546.7 444.15 546.7 432.15 551.5 428.75Z" fill="#fff"/>
<ellipse cx="582" cy="438.25" rx="4.6" ry="9.9" fill="#fff"/>
<ellipse cx="582.2" cy="438.25" rx="3" ry="7.6"/>
<path d="M557 427.95Q555.2 439.15 557.3 451.15"/>
<path d="M571.5 427.45Q569.8 439.15 571.3 451.45"/>
<path d="M556.5 430.85L570.7 430.85" stroke-width="1"/>
<path d="M556.5 433.97L570.7 433.97" stroke-width="1"/>
<path d="M556.5 437.09L570.7 437.09" stroke-width="1"/>
<path d="M556.5 440.21L570.7 440.21" stroke-width="1"/>
<path d="M556.5 443.33L570.7 443.33" stroke-width="1"/>
<path d="M556.5 446.45L570.7 446.45" stroke-width="1"/>
<path d="M556.5 449.57L570.7 449.57" stroke-width="1"/>
<polygon points="575.6,261.5 639.75,261.5 639.75,281.9 575.6,281.9"/>
<polyline points="639.75,261.5 645,266.9 645,295"/>
<path d="M639.75 281.9L645 287.5"/>
<path d="M593.1 295.5L645 295.5"/>
<path d="M575.9 282.5L601.6 310.3"/>
<polyline points="593.1,295.5 607.7,310.3 601.6,310.3"/>
<path d="M596.2 295.7L607.3 307.7" stroke-width="1"/>
<polyline points="599.2,295.7 608.2,306.3 608.2,310.3 607.7,310.3"/>
<rect x="581" y="265" width="13.4" height="14.4" rx="2.2"/>
<rect x="600.6" y="265" width="13.4" height="14.4" rx="2.2"/>
<rect x="620" y="265" width="13.4" height="14.4" rx="2.2"/>
<ellipse cx="587.9" cy="272.3" rx="1.5" ry="1.1"/>
<ellipse cx="626.9" cy="272.3" rx="1.5" ry="1.1"/>
<path d="M606 266.5V271.5Q607.3 273.5 608.6 271.5V266.5" stroke-width="1.1"/>
<circle cx="603.8" cy="266.8" r="1.2" stroke-width="0.9"/>
<circle cx="610.8" cy="266.8" r="1.2" stroke-width="0.9"/>
<polygon points="645.4,268 667.5,268 667.5,296.25 645.4,296.25"/>
<rect x="648" y="271.25" width="15.75" height="22.5"/>
<ellipse cx="656" cy="282.5" rx="1.6" ry="1.4"/>
<polyline points="667.5,268 674.4,275 674.4,304.4 651.9,304.4 645.4,296.25"/>
<path d="M667.5 296.25L674.4 304.4"/>
<path d="M674.4 290L690 290"/>
<path d="M670 255.8L683 272.5"/>
<polyline points="683,261 683,272.5 692.5,272.5"/>
<path d="M679 260.2L835 260.2"/>
<path d="M683 265.3L835 265.3"/>
<path d="M692.5 255.8L692.5 260.2"/>
<path d="M693.5 260.2L696.7 265.3"/>
<path d="M706.45 255.8L706.45 260.2"/>
<path d="M707.45 260.2L710.65 265.3"/>
<path d="M720.4 255.8L720.4 260.2"/>
<path d="M721.4 260.2L724.6 265.3"/>
<path d="M734.35 255.8L734.35 260.2"/>
<path d="M735.35 260.2L738.55 265.3"/>
<path d="M748.3 255.8L748.3 260.2"/>
<path d="M749.3 260.2L752.5 265.3"/>
<path d="M762.25 255.8L762.25 260.2"/>
<path d="M763.25 260.2L766.45 265.3"/>
<path d="M776.2 255.8L776.2 260.2"/>
<path d="M777.2 260.2L780.4 265.3"/>
<path d="M790.15 255.8L790.15 260.2"/>
<path d="M791.15 260.2L794.35 265.3"/>
<path d="M804.1 255.8L804.1 260.2"/>
<path d="M805.1 260.2L808.3 265.3"/>
<path d="M818.05 255.8L818.05 260.2"/>
<path d="M819.05 260.2L822.25 265.3"/>
<path d="M832 255.8L832 260.2"/>
<path d="M833 260.2L836.2 265.3"/>
<path d="M697.6 318.1L895.6 318.1"/>
<path d="M699.5 321.3L895.6 321.3"/>
<polyline points="697.6,306 697.6,318.1 699.5,321.3"/>
<circle cx="827" cy="298.6" r="16.9" fill="#fff"/>
<path d="M819.03 287.48A3.75 3.75 0 1 1 819.35 294.79"/>
<path d="M818.19 284.34A7 7 0 1 1 818.78 297.99"/>
<path d="M817.33 281.15A10.3 10.3 0 1 1 818.21 301.24"/>
<polyline points="834.8,285.6 837.6,285.6 836.6,296 832.4,296" stroke-width="1"/>
<circle cx="797" cy="298.6" r="16.9" fill="#fff"/>
<path d="M789.03 287.48A3.75 3.75 0 1 1 789.35 294.79"/>
<path d="M788.19 284.34A7 7 0 1 1 788.78 297.99"/>
<path d="M787.33 281.15A10.3 10.3 0 1 1 788.21 301.24"/>
<polyline points="804.8,285.6 807.6,285.6 806.6,296 802.4,296" stroke-width="1"/>
<circle cx="767" cy="298.6" r="16.9" fill="#fff"/>
<path d="M759.03 287.48A3.75 3.75 0 1 1 759.35 294.79"/>
<path d="M758.19 284.34A7 7 0 1 1 758.78 297.99"/>
<path d="M757.33 281.15A10.3 10.3 0 1 1 758.21 301.24"/>
<polyline points="774.8,285.6 777.6,285.6 776.6,296 772.4,296" stroke-width="1"/>
<circle cx="737" cy="298.6" r="16.9" fill="#fff"/>
<path d="M729.03 287.48A3.75 3.75 0 1 1 729.35 294.79"/>
<path d="M728.19 284.34A7 7 0 1 1 728.78 297.99"/>
<path d="M727.33 281.15A10.3 10.3 0 1 1 728.21 301.24"/>
<polyline points="744.8,285.6 747.6,285.6 746.6,296 742.4,296" stroke-width="1"/>
<circle cx="707" cy="298.6" r="16.9" fill="#fff"/>
<path d="M699.03 287.48A3.75 3.75 0 1 1 699.35 294.79"/>
<path d="M698.19 284.34A7 7 0 1 1 698.78 297.99"/>
<path d="M697.33 281.15A10.3 10.3 0 1 1 698.21 301.24"/>
<polyline points="714.8,285.6 717.6,285.6 716.6,296 712.4,296" stroke-width="1"/>
<polygon points="696.2,266.25 723.8,266.25 719.2,277 691.6,277" fill="#fff"/>
<polygon points="724.2,266.25 751.8,266.25 747.2,277 719.6,277" fill="#fff"/>
<polygon points="752.2,266.25 779.8,266.25 775.2,277 747.6,277" fill="#fff"/>
<polygon points="780.2,266.25 807.8,266.25 803.2,277 775.6,277" fill="#fff"/>
<polygon points="808.2,266.25 835.8,266.25 831.2,277 803.6,277" fill="#fff"/>
<polygon points="690.6,288.2 694.3,288.2 696.2,309.2 693.6,309.6" fill="#fff" stroke-width="1"/>
<circle cx="692" cy="282.7" r="3.3" fill="#fff" stroke-width="1"/>
<circle cx="692" cy="282.7" r="1.7" stroke-width="1"/>
<path d="M685.5 275.6L691 281.6" stroke-width="2"/>
<path d="M695.8 309.8C688.5 312 687 325 695 328.2C700 330 704 328.5 708.6 331.6"/>
<g transform="translate(718 341.6) rotate(43)"><rect x="-8.2" y="-5.8" width="16.4" height="11.6" rx="3.6" fill="#fff"/><circle cx="-9.3" cy="0" r="1.6" fill="#fff"/><path d="M-4.5 2.6Q0.5 -3.2 5.8 -1.5Q1 3.6 -4.5 2.6" stroke-width="0.7"/></g>
<polygon points="720.6,288.2 724.3,288.2 726.2,309.2 723.6,309.6" fill="#fff" stroke-width="1"/>
<circle cx="722" cy="282.7" r="3.3" fill="#fff" stroke-width="1"/>
<circle cx="722" cy="282.7" r="1.7" stroke-width="1"/>
<path d="M715.5 275.6L721 281.6" stroke-width="2"/>
<path d="M725.8 309.8C718.5 312 717 325 725 328.2C730 330 734 328.5 738.6 331.6"/>
<g transform="translate(748 341.6) rotate(43)"><rect x="-8.2" y="-5.8" width="16.4" height="11.6" rx="3.6" fill="#fff"/><circle cx="-9.3" cy="0" r="1.6" fill="#fff"/><path d="M-4.5 2.6Q0.5 -3.2 5.8 -1.5Q1 3.6 -4.5 2.6" stroke-width="0.7"/></g>
<polygon points="750.6,288.2 754.3,288.2 756.2,309.2 753.6,309.6" fill="#fff" stroke-width="1"/>
<circle cx="752" cy="282.7" r="3.3" fill="#fff" stroke-width="1"/>
<circle cx="752" cy="282.7" r="1.7" stroke-width="1"/>
<path d="M745.5 275.6L751 281.6" stroke-width="2"/>
<path d="M755.8 309.8C748.5 312 747 325 755 328.2C760 330 764 328.5 768.6 331.6"/>
<g transform="translate(778 341.6) rotate(43)"><rect x="-8.2" y="-5.8" width="16.4" height="11.6" rx="3.6" fill="#fff"/><circle cx="-9.3" cy="0" r="1.6" fill="#fff"/><path d="M-4.5 2.6Q0.5 -3.2 5.8 -1.5Q1 3.6 -4.5 2.6" stroke-width="0.7"/></g>
<polygon points="780.6,288.2 784.3,288.2 786.2,309.2 783.6,309.6" fill="#fff" stroke-width="1"/>
<circle cx="782" cy="282.7" r="3.3" fill="#fff" stroke-width="1"/>
<circle cx="782" cy="282.7" r="1.7" stroke-width="1"/>
<path d="M775.5 275.6L781 281.6" stroke-width="2"/>
<path d="M785.8 309.8C778.5 312 777 325 785 328.2C790 330 794 328.5 798.6 331.6"/>
<g transform="translate(808 341.6) rotate(43)"><rect x="-8.2" y="-5.8" width="16.4" height="11.6" rx="3.6" fill="#fff"/><circle cx="-9.3" cy="0" r="1.6" fill="#fff"/><path d="M-4.5 2.6Q0.5 -3.2 5.8 -1.5Q1 3.6 -4.5 2.6" stroke-width="0.7"/></g>
<polygon points="810.6,288.2 814.3,288.2 816.2,309.2 813.6,309.6" fill="#fff" stroke-width="1"/>
<circle cx="812" cy="282.7" r="3.3" fill="#fff" stroke-width="1"/>
<circle cx="812" cy="282.7" r="1.7" stroke-width="1"/>
<path d="M805.5 275.6L811 281.6" stroke-width="2"/>
<path d="M815.8 309.8C808.5 312 807 325 815 328.2C820 330 824 328.5 828.6 331.6"/>
<g transform="translate(838 341.6) rotate(43)"><rect x="-8.2" y="-5.8" width="16.4" height="11.6" rx="3.6" fill="#fff"/><circle cx="-9.3" cy="0" r="1.6" fill="#fff"/><path d="M-4.5 2.6Q0.5 -3.2 5.8 -1.5Q1 3.6 -4.5 2.6" stroke-width="0.7"/></g>
<polygon points="835,256.9 870.6,256.9 870.6,291.9 835,291.9" fill="#fff"/>
<polygon points="844,258.7 861.8,258.7 861.8,260.3 867.2,260.3 867.2,265.7 868.8,265.7 868.8,283 867.2,283 867.2,288.4 861.8,288.4 861.8,290 844,290 844,288.4 838.6,288.4 838.6,283 837,283 837,265.7 838.6,265.7 838.6,260.3 844,260.3" stroke-width="1"/>
<circle cx="852.5" cy="273.75" r="11.9"/>
<circle cx="852.5" cy="273.75" r="1.9"/>
<polyline points="870.6,256.9 888.75,275.6 888.75,311.25 850.6,311.25"/>
<polyline points="835,291.9 850.6,310 850.6,321.3"/>
<path d="M848.75 308L848.75 318.1"/>
<rect x="855" y="311.25" width="7.5" height="1.9" stroke-width="1"/>
<rect x="883" y="311.25" width="6.9" height="1.9" stroke-width="1"/>
<polyline points="888.75,279.4 895.6,279.4 895.6,321.3"/>
<path d="M893.1 279.4L893.1 318.1"/>
<polyline points="888.75,285.6 891.25,285.6 891.25,279.4" stroke-width="1"/>
<polyline points="888.75,305 891.25,308 891.25,313.7" stroke-width="1"/>
<polyline points="850.6,321.3 866.2,338.2 871.2,338.2 871.2,334.5"/>
<path d="M856.8 321.3L871.2 336.3"/>
<polyline points="890.6,321.3 906.2,338.2 911.2,338.2 911.2,334.5"/>
<path d="M896.8 321.3L911.2 336.3"/>
<polyline points="895.6,281.25 911.25,301.25 911.25,303.75 907.5,303.75 895.6,288"/>
<polyline points="879.5,255.8 894.5,273.1 931.75,273.1 916.25,255.8"/>
<path d="M886.2 255.8L896.7 263.4"/>
<path d="M896.7 263.4L922.95 263.4"/>
<path d="M896.7 263.4L894.5 273.1"/>
<polyline points="921.9,255.8 936.9,273.1 968,273.1 952.5,255.8"/>
<path d="M928.6 255.8L939.1 263.4"/>
<path d="M939.1 263.4L959.2 263.4"/>
<path d="M939.1 263.4L936.9 273.1"/>
<polyline points="957.7,255.8 972.7,273.1 1010.5,273.1 995,255.8"/>
<path d="M964.4 255.8L974.9 263.4"/>
<path d="M974.9 263.4L1001.7 263.4"/>
<path d="M974.9 263.4L972.7 273.1"/>
<path d="M905 290L1027.5 290"/>
<path d="M392 290L439.5 290"/>
<circle cx="970" cy="358.75" r="14.5" fill="#fff"/>
<circle cx="963.62" cy="351.52" r="14.5" fill="#fff"/>
<circle cx="957.44" cy="344.51" r="14.5" fill="#fff"/>
<polyline points="940.38,347.09 959.13,368.34"/>
<polyline points="962.12,327.91 980.87,349.16"/>
<circle cx="951.25" cy="337.5" r="14.5" fill="#fff"/>
<circle cx="951.25" cy="337.5" r="11.3"/>
<path d="M951.34 333.58L950.41 334.17" stroke-width="0.8"/>
<path d="M950.9 345.83L951.95 346.15" stroke-width="0.8"/>
<path d="M953.19 343.11L954.22 343.52" stroke-width="0.8"/>
<path d="M949.94 340.47L951.03 340.6" stroke-width="0.8"/>
<path d="M948.36 334.14L947.34 334.56" stroke-width="0.8"/>
<path d="M950.43 343.93L951.52 344.08" stroke-width="0.8"/>
<path d="M946.04 330.64L946.65 331.56" stroke-width="0.8"/>
<path d="M956.19 344.26L955.63 345.2" stroke-width="0.8"/>
<path d="M949.29 328.92L950.32 329.3" stroke-width="0.8"/>
<path d="M953.07 337.53L952.04 337.91" stroke-width="0.8"/>
<path d="M952.97 344.69L952.32 345.58" stroke-width="0.8"/>
<path d="M951.74 332.19L950.82 332.81" stroke-width="0.8"/>
<path d="M957.02 340.53L956.15 341.2" stroke-width="0.8"/>
<path d="M957.33 339.17L957.56 340.25" stroke-width="0.8"/>
<path d="M950.69 344.65L949.93 345.45" stroke-width="0.8"/>
<path d="M950.53 328.35L951.11 329.28" stroke-width="0.8"/>
<path d="M952.67 336.7L952.39 337.77" stroke-width="0.8"/>
<path d="M943.64 335.82L942.59 336.15" stroke-width="0.8"/>
<path d="M955.93 342.62L955.95 343.72" stroke-width="0.8"/>
<path d="M947.42 341.78L946.34 341.98" stroke-width="0.8"/>
<path d="M955.98 330.12L957.06 330.29" stroke-width="0.8"/>
<path d="M943.09 336.13L943.81 336.97" stroke-width="0.8"/>
<path d="M943.7 337.3L944.46 338.09" stroke-width="0.8"/>
<path d="M950.12 335.67L951.12 336.13" stroke-width="0.8"/>
<path d="M956.2 340.07L955.22 340.58" stroke-width="0.8"/>
<path d="M957.97 340.74L958.34 341.78" stroke-width="0.8"/>
<circle cx="1010" cy="358.75" r="14.5" fill="#fff"/>
<circle cx="1003.62" cy="351.52" r="14.5" fill="#fff"/>
<circle cx="997.44" cy="344.51" r="14.5" fill="#fff"/>
<polyline points="980.38,347.09 999.13,368.34"/>
<polyline points="1002.12,327.91 1020.87,349.16"/>
<circle cx="991.25" cy="337.5" r="14.5" fill="#fff"/>
<circle cx="991.25" cy="337.5" r="11.3"/>
<path d="M995.78 343.52L996.46 344.38" stroke-width="0.8"/>
<path d="M993.17 329.34L992.54 330.24" stroke-width="0.8"/>
<path d="M993 331.47L991.92 331.65" stroke-width="0.8"/>
<path d="M988.23 340.53L987.53 341.38" stroke-width="0.8"/>
<path d="M982.88 334.41L982.66 335.49" stroke-width="0.8"/>
<path d="M991.88 338.85L992.58 339.7" stroke-width="0.8"/>
<path d="M994.54 334.05L993.83 334.89" stroke-width="0.8"/>
<path d="M987.65 343.57L987.04 344.49" stroke-width="0.8"/>
<path d="M996.69 344.55L995.82 345.22" stroke-width="0.8"/>
<path d="M986.45 343.42L985.43 343.84" stroke-width="0.8"/>
<path d="M982.17 338.97L981.91 340.04" stroke-width="0.8"/>
<path d="M991.28 341.38L992.02 342.19" stroke-width="0.8"/>
<path d="M985.4 330.34L984.34 330.64" stroke-width="0.8"/>
<path d="M992.17 330.09L991.17 330.56" stroke-width="0.8"/>
<path d="M984.2 338.33L985 339.09" stroke-width="0.8"/>
<path d="M992.32 333.96L991.46 334.64" stroke-width="0.8"/>
<path d="M993 329.67L994.09 329.73" stroke-width="0.8"/>
<path d="M994.18 336L993.08 336.07" stroke-width="0.8"/>
<path d="M989.57 337.07L990.59 337.5" stroke-width="0.8"/>
<path d="M988.99 343.52L988.76 344.6" stroke-width="0.8"/>
<path d="M991.13 343.38L990.94 344.46" stroke-width="0.8"/>
<path d="M994.4 343.5L994.69 344.56" stroke-width="0.8"/>
<path d="M997.13 330.43L997.57 331.44" stroke-width="0.8"/>
<path d="M984.36 332.25L985.38 332.66" stroke-width="0.8"/>
<path d="M991.58 341.92L992.54 342.45" stroke-width="0.8"/>
<path d="M990 342.66L990.93 343.26" stroke-width="0.8"/>
<polyline points="1024.4,282.3 1041,319.4 1053.75,319.4 1037.3,282.3"/>
<polyline points="1037.3,243.4 1053.75,280.8 1053.75,319.4"/>
<polyline points="1053.75,281 1120,281 1120,508.5"/>
<polyline points="1120,281 1130,302.75"/>
<rect x="1130" y="302.75" width="12.75" height="56"/>
<rect x="1148.1" y="314.75" width="12.5" height="55.6"/>
<rect x="1166" y="326.9" width="12.5" height="55.6"/>
<path d="M1142.75 302.75L1148.1 314.75"/>
<path d="M1160.6 314.75L1166 326.9"/>
<polyline points="1178.5,326.9 1184.4,339.4 1184.4,390.6 1144.4,390.6 1130,358.75"/>
<path d="M1142.75 358.75L1148.1 370.4"/>
<path d="M1160.6 370.4L1166 382.5"/>
<path d="M1178.5 382.5L1184.4 390.6"/>
<path d="M1053.75 323.75L1053.75 467.5" stroke-width="1.2" stroke-dasharray="3.75 3.75" stroke-linecap="butt"/>
<path d="M1037.3 442.3L1053.75 471.9"/>
<polyline points="1053.75,471.9 1053.75,508.5 1119.6,508.5 1144.8,551.3 1078.7,551.3 1053.75,508.5"/>
<path d="M1144.8 551.3L1144.8 390.6"/>
<path d="M980 452.7Q1003 454 1017.5 459.7L1019.8 462L1016 506Q994 503.5 971 502.3Q966 498 968.3 490.6Q971 476 980 452.7Z" fill="#fff"/>
<path d="M1017.5 459.7L1016 506" stroke-width="1"/>
<path d="M971 502.3Q995 499 1016 506"/>
<polyline points="1019.8,462 1024.4,468"/>
<circle cx="994.5" cy="478.6" r="1.9" fill="#fff" stroke-width="1"/>
<path d="M981 488.1Q983.5 477.6 992.5 479.1" stroke-width="1"/>
<path d="M985 475.1Q989.5 475.1 991.5 478.1" stroke-width="1"/>
<path d="M991 468.1Q992 473.6 993.7 476.6" stroke-width="1"/>
<path d="M995.3 476.6Q997.5 470.6 1003.5 468.6" stroke-width="1"/>
<path d="M996.3 477.6Q999.5 474.6 1002.5 474.1" stroke-width="1"/>
<path d="M996.5 478.8Q1002.5 477.1 1007 479.4" stroke-width="1"/>
<path d="M996 480.1Q998.5 482.6 999.5 487.1" stroke-width="1"/>
<path d="M974.8 507Q972 508 970.5 509.5Q966 540 963.75 571.5Q966 576 966.5 579Q990 574 1012.5 578.5L1014.5 567L1017.5 510.2Q995 505 974.8 507Z" fill="#fff"/>
<path d="M963.75 571.5Q990 563 1012.5 567.5"/>
<path d="M1016 506Q1019 508 1019.4 510L1017.5 511"/>
<circle cx="990" cy="533.75" r="1.9" fill="#fff" stroke-width="1"/>
<path d="M976.5 543.25Q979 532.75 988 534.25" stroke-width="1"/>
<path d="M980.5 530.25Q985 530.25 987 533.25" stroke-width="1"/>
<path d="M986.5 523.25Q987.5 528.75 989.2 531.75" stroke-width="1"/>
<path d="M990.8 531.75Q993 525.75 999 523.75" stroke-width="1"/>
<path d="M991.8 532.75Q995 529.75 998 529.25" stroke-width="1"/>
<path d="M992 533.95Q998 532.25 1002.5 534.55" stroke-width="1"/>
<path d="M991.5 535.25Q994 537.75 995 542.25" stroke-width="1"/>
<path d="M976.25 567.2Q1000 565 1018.75 570.5Q1021 590 1020 620L1023.75 628.8Q995 620 966.25 627.5Q962 622 965 617.5Q967 595 976.25 567.2Z" fill="#fff"/>
<path d="M965 617.5Q992 611 1020 620"/>
<circle cx="992" cy="590" r="1.9" fill="#fff" stroke-width="1"/>
<path d="M978.5 599.5Q981 589 990 590.5" stroke-width="1"/>
<path d="M982.5 586.5Q987 586.5 989 589.5" stroke-width="1"/>
<path d="M988.5 579.5Q989.5 585 991.2 588" stroke-width="1"/>
<path d="M992.8 588Q995 582 1001 580" stroke-width="1"/>
<path d="M993.8 589Q997 586 1000 585.5" stroke-width="1"/>
<path d="M994 590.2Q1000 588.5 1004.5 590.8" stroke-width="1"/>
<path d="M993.5 591.5Q996 594 997 598.5" stroke-width="1"/>
<path d="M1019.8 462Q1022 485 1021 508" stroke-width="1"/>
<path d="M1021 512Q1026 540 1022 566" stroke-width="1"/>
<path d="M964 623C965.42 621.42 969 619.88 975 619.3C981 618.72 992.17 618.8 1000 619.5C1007.83 620.2 1018.07 622.08 1022 623.5C1025.93 624.92 1023.77 626.85 1023.6 628C1023.43 629.15 1024.93 630.23 1021 630.4C1017.07 630.57 1007.67 629.15 1000 629C992.33 628.85 980.58 629.53 975 629.5C969.42 629.47 968.33 629.88 966.5 628.8C964.67 627.72 962.58 624.58 964 623Z" fill="#fff"/>
<path d="M967 632C966.92 630.52 966.17 630.05 970 629.6C973.83 629.15 981.33 629.07 990 629.3C998.67 629.53 1016.43 629.88 1022 631C1027.57 632.12 1023.57 634.5 1023.4 636C1023.23 637.5 1024.9 639.5 1021 640C1017.1 640.5 1006.83 639.42 1000 639C993.17 638.58 984.92 637.58 980 637.5C975.08 637.42 972.67 639.42 970.5 638.5C968.33 637.58 967.08 633.48 967 632Z" fill="#fff"/>
<path d="M998.5 644C999.83 642.47 1003.85 642.47 1008 642.8C1012.15 643.13 1020.73 644.3 1023.4 646C1026.07 647.7 1025.23 651.73 1024 653C1022.77 654.27 1020 653.77 1016 653.6C1012 653.43 1002.92 653.6 1000 652C997.08 650.4 997.17 645.53 998.5 644Z" fill="#fff"/>
<path d="M1014 654C1015.5 650.95 1022.25 650.77 1024 653.6C1025.75 656.43 1026 667.95 1024.5 671C1023 674.05 1016.75 674.73 1015 671.9C1013.25 669.07 1012.5 657.05 1014 654Z" fill="#fff"/>
<path d="M1014 672.5C1015.75 669.77 1022.75 669.32 1024.5 671.9C1026.25 674.48 1026.25 685.27 1024.5 688C1022.75 690.73 1015.75 690.88 1014 688.3C1012.25 685.72 1012.25 675.23 1014 672.5Z" fill="#fff"/>
<path d="M1013 689C1015.08 684.25 1022.58 684 1024.5 688.5C1026.42 693 1026.58 711.25 1024.5 716C1022.42 720.75 1013.92 721.5 1012 717C1010.08 712.5 1010.92 693.75 1013 689Z" fill="#fff"/>
<path d="M971 638C973.17 636.63 976.25 636.8 979 636.8C981.75 636.8 985.83 637.22 987.5 638C989.17 638.78 989.17 639.92 989 641.5C988.83 643.08 987.75 646 986.5 647.5C985.25 649 982.08 647.75 981.5 650.5C980.92 653.25 984.08 661.33 983 664C981.92 666.67 978.42 665.87 975 666.5C971.58 667.13 964.53 669.55 962.5 667.8C960.47 666.05 962.22 659.8 962.8 656C963.38 652.2 964.63 648 966 645C967.37 642 968.83 639.37 971 638Z" fill="#fff"/>
<path d="M962 669.5C964.17 667.83 968.83 668.17 972 668C975.17 667.83 979.33 665.67 981 668.5C982.67 671.33 982 679.75 982 685C982 690.25 982.17 697 981 700C979.83 703 978.7 702.67 975 703C971.3 703.33 961.72 704.17 958.8 702C955.88 699.83 957.47 694 957.5 690C957.53 686 958.25 681.42 959 678C959.75 674.58 959.83 671.17 962 669.5Z" fill="#fff"/>
<path d="M958.8 704C960.88 703 966.38 703 970 703C973.62 703 978.58 702.83 980.5 704C982.42 705.17 981.58 708 981.5 710C981.42 712 981.92 714.75 980 716C978.08 717.25 973.58 717.83 970 717.5C966.42 717.17 960.58 715.42 958.5 714C956.42 712.58 957.45 710.67 957.5 709C957.55 707.33 956.72 705 958.8 704Z" fill="#fff"/>
<path d="M981.5 649.5C982.45 647.67 985.58 647.63 988 647C990.42 646.37 993 645.7 996 645.7C999 645.7 1002.67 646.32 1006 647C1009.33 647.68 1014.2 647.63 1016 649.8C1017.8 651.97 1016.97 656.87 1016.8 660C1016.63 663.13 1016.8 667.43 1015 668.6C1013.2 669.77 1009.17 667.38 1006 667C1002.83 666.62 999.67 666.23 996 666.3C992.33 666.37 986.28 668.78 984 667.4C981.72 666.02 982.72 660.98 982.3 658C981.88 655.02 980.55 651.33 981.5 649.5Z" fill="#fff"/>
<path d="M981.5 670C983.2 668.38 987.25 668.63 990 668.3C992.75 667.97 995.17 667.95 998 668C1000.83 668.05 1004.17 668.27 1007 668.6C1009.83 668.93 1013.5 668.1 1015 670C1016.5 671.9 1016.58 676.42 1016 680C1015.42 683.58 1013.67 689.67 1011.5 691.5C1009.33 693.33 1005.75 691.25 1003 691C1000.25 690.75 997.83 690.45 995 690C992.17 689.55 988.75 688.97 986 688.3C983.25 687.63 979.53 687.72 978.5 686C977.47 684.28 979.3 680.67 979.8 678C980.3 675.33 979.8 671.62 981.5 670Z" fill="#fff"/>
<path d="M981 691.5C983.67 689.83 990 690.75 995 691C1000 691.25 1007.97 691 1011 693C1014.03 695 1013.37 699.67 1013.2 703C1013.03 706.33 1012.87 711 1010 713C1007.13 715 1000.83 715.08 996 715C991.17 714.92 983.83 714.83 981 712.5C978.17 710.17 979 704.5 979 701C979 697.5 978.33 693.17 981 691.5Z" fill="#fff"/>
<path d="M968 720C969.33 718.75 971.33 717.17 975 716.5C978.67 715.83 984 715.83 990 716C996 716.17 1007.17 716.5 1011 717.5C1014.83 718.5 1013.17 720.42 1013 722C1012.83 723.58 1013.83 726 1010 727C1006.17 728 996.33 728 990 728C983.67 728 975.83 727.67 972 727C968.17 726.33 967.67 725.17 967 724C966.33 722.83 966.67 721.25 968 720Z" fill="#fff"/>
<path d="M972 730C973.5 728.92 976.17 727.92 980 727.5C983.83 727.08 989.83 727.33 995 727.5C1000.17 727.67 1008 727.58 1011 728.5C1014 729.42 1013.33 731.5 1013 733C1012.67 734.5 1012.83 736.58 1009 737.5C1005.17 738.42 995.5 738.5 990 738.5C984.5 738.5 979.17 738.25 976 737.5C972.83 736.75 971.67 735.25 971 734C970.33 732.75 970.5 731.08 972 730Z" fill="#fff"/>
<path d="M964 717C965.5 715.83 969.5 715.83 972 716C974.5 716.17 978 716.67 979 718C980 719.33 979.33 722.67 978 724C976.67 725.33 973.5 726.17 971 726C968.5 725.83 964.17 724.5 963 723C961.83 721.5 962.5 718.17 964 717Z" fill="#fff"/>
<polygon points="481.9,526.25 507,553.75 507,587.25 481.9,559.75" fill="#fff"/>
<path d="M488.17 533.12L488.17 566.62"/>
<path d="M494.45 540L494.45 573.5"/>
<path d="M500.73 546.88L500.73 580.38"/>
<path d="M481.9 543L507 570.5"/>
<polygon points="433.5,526.25 481.9,526.25 481.9,559.75 433.5,559.75" fill="#fff"/>
<path d="M457.7 526.25L457.7 559.75"/>
<path d="M433.5 544.4L481.9 544.4"/>
<path d="M439.5 534.33L451.5 534.33"/>
<path d="M439.5 551.08L451.5 551.08"/>
<path d="M463.7 534.33L475.7 534.33"/>
<path d="M463.7 551.08L475.7 551.08"/>
<polygon points="486,559.75 511.25,586.9 511.25,641.25 486,614.4" fill="#fff"/>
<path d="M492.31 566.54L492.31 621.11"/>
<path d="M498.62 573.33L498.62 627.83"/>
<path d="M504.94 580.11L504.94 634.54"/>
<path d="M486 577.97L511.25 605.02"/>
<path d="M486 596.18L511.25 623.13"/>
<polygon points="414.4,614.4 486,614.4 511.25,641.25 440,641.25"/>
<path d="M438.27 614.4L463.75 641.25"/>
<path d="M462.13 614.4L487.5 641.25"/>
<path d="M420.8 621.11L492.31 621.11"/>
<path d="M427.2 627.83L498.62 627.83"/>
<path d="M433.6 634.54L504.94 634.54"/>
<polygon points="414.4,559.75 486,559.75 486,614.4 414.4,614.4" fill="#fff"/>
<path d="M438.27 559.75L438.27 614.4"/>
<path d="M462.13 559.75L462.13 614.4"/>
<path d="M414.4 577.97L486 577.97"/>
<path d="M414.4 596.18L486 596.18"/>
<path d="M420.25 568.42L432.25 568.42"/>
<path d="M420.25 586.55L432.25 586.55"/>
<path d="M420.25 604.7L432.25 604.7"/>
<path d="M444 568.42L456 568.42"/>
<path d="M444 586.55L456 586.55"/>
<path d="M444 604.7L456 604.7"/>
<path d="M467.95 568.42L479.95 568.42"/>
<path d="M467.95 586.55L479.95 586.55"/>
<path d="M467.95 604.7L479.95 604.7"/>
<polyline points="580,479.4 592,488 592,517.5 588.2,514"/>
<path d="M586 483.7L586 510"/>
<path d="M575 488L585 498"/>
<path d="M575 502.5L585 512"/>
<rect x="547.5" y="479.4" width="32.5" height="8.6" fill="#fff"/>
<path d="M547.5 483.75L580 483.75"/>
<rect x="544.75" y="488" width="30.25" height="14.5" fill="#fff"/>
<path d="M544.75 492.7L575 492.7"/>
<path d="M544.75 497.6L575 497.6"/>
<path d="M544.75 502.5L561.65 517.5"/>
<path d="M580 488L580 508"/>
<polyline points="541,515.6 536.5,515.6 536.5,538 545,546.2 561.65,546.2"/>
<polyline points="540.6,516.2 540.6,536.2 547,543.1 561.65,543.1"/>
<polyline points="541,515.6 551,524.6 561.65,524.6"/>
<path d="M545 521.8L561.65 521.8"/>
<path d="M554.5 524.6Q552.3 533.6 554.5 543.1" stroke-width="1"/>
<polyline points="545,546.2 551.9,550.6 561.65,550.6"/>
<polyline points="541,574.4 536.5,574.4 536.5,596.8 545,605 561.65,605"/>
<polyline points="540.6,575 540.6,595 547,601.9 561.65,601.9"/>
<polyline points="541,574.4 551,583.4 561.65,583.4"/>
<path d="M545 580.6L561.65 580.6"/>
<path d="M554.5 583.4Q552.3 592.4 554.5 601.9" stroke-width="1"/>
<polyline points="545,605 551.9,609.4 561.65,609.4"/>
<path d="M589 520.5L601 533.1"/>
<path d="M588.2 524.5L591 522.7" stroke-width="0.9"/>
<path d="M589 573L601 585.6"/>
<path d="M588.2 577L591 575.2" stroke-width="0.9"/>
<path d="M589 623.2L601 635.8"/>
<path d="M588.2 627.2L591 625.4" stroke-width="0.9"/>
<polygon points="561.65,508 585.8,508 585.8,669.9 561.65,669.9" fill="#fff"/>
<polyline points="585.8,508 588.2,510 588.2,672 564,672 561.65,669.9"/>
<path d="M585.8 669.9L588.2 672"/>
<path d="M568.8 672L585.3 690.7"/>
<path d="M585.3 672L601 690.7"/>
<path d="M568.8 672L591.8 681.4"/>
<rect x="564.4" y="522.5" width="13.1" height="21.3" stroke-width="1"/>
<path d="M560.39 527.99L565.99 535.49A5 5 0 0 0 574.01 529.51L568.41 522.01" fill="#fff"/>
<circle cx="564.4" cy="525" r="5" fill="#fff"/>
<path d="M566.58 542.25L571.58 547.75A2.6 2.6 0 0 0 575.42 544.25L570.42 538.75" fill="#fff"/>
<circle cx="568.5" cy="540.5" r="2.6" fill="#fff"/>
<path d="M576.91 449.3L609.16 487.1A5.7 5.7 0 0 0 617.84 479.7L585.59 441.9" fill="#fff"/>
<circle cx="581.25" cy="445.6" r="5.7" fill="url(#dots)"/>
<path d="M575.46 633.89L607.76 671.19A6.4 6.4 0 0 0 617.44 662.81L585.14 625.51" fill="#fff"/>
<circle cx="580.3" cy="629.7" r="6.4" fill="url(#dots)"/>
<path d="M789.12 420.07L820.92 456.67A6.2 6.2 0 0 0 830.28 448.53L798.48 411.93" fill="#fff"/>
<circle cx="793.8" cy="416" r="6.2" fill="url(#dots)"/>
<rect x="878.7" y="471.5" width="7.4" height="149.6" stroke-width="1.2"/>
<path d="M878.7 474.45L886.1 474.45" stroke-width="1.25"/>
<path d="M878.7 477.4L886.1 477.4" stroke-width="1.25"/>
<path d="M878.7 480.35L886.1 480.35" stroke-width="1.25"/>
<path d="M878.7 483.3L886.1 483.3" stroke-width="1.25"/>
<path d="M878.7 486.25L886.1 486.25" stroke-width="1.25"/>
<path d="M878.7 489.2L886.1 489.2" stroke-width="1.25"/>
<path d="M878.7 492.15L886.1 492.15" stroke-width="1.25"/>
<path d="M878.7 495.1L886.1 495.1" stroke-width="1.25"/>
<path d="M878.7 498.05L886.1 498.05" stroke-width="1.25"/>
<path d="M878.7 501L886.1 501" stroke-width="1.25"/>
<path d="M878.7 503.95L886.1 503.95" stroke-width="1.25"/>
<path d="M878.7 506.9L886.1 506.9" stroke-width="1.25"/>
<path d="M878.7 509.85L886.1 509.85" stroke-width="1.25"/>
<path d="M878.7 512.8L886.1 512.8" stroke-width="1.25"/>
<path d="M878.7 515.75L886.1 515.75" stroke-width="1.25"/>
<path d="M878.7 518.7L886.1 518.7" stroke-width="1.25"/>
<path d="M878.7 521.65L886.1 521.65" stroke-width="1.25"/>
<path d="M878.7 524.6L886.1 524.6" stroke-width="1.25"/>
<path d="M878.7 527.55L886.1 527.55" stroke-width="1.25"/>
<path d="M878.7 530.5L886.1 530.5" stroke-width="1.25"/>
<path d="M878.7 533.45L886.1 533.45" stroke-width="1.25"/>
<path d="M878.7 536.4L886.1 536.4" stroke-width="1.25"/>
<path d="M878.7 539.35L886.1 539.35" stroke-width="1.25"/>
<path d="M878.7 542.3L886.1 542.3" stroke-width="1.25"/>
<path d="M878.7 545.25L886.1 545.25" stroke-width="1.25"/>
<path d="M878.7 548.2L886.1 548.2" stroke-width="1.25"/>
<path d="M878.7 551.15L886.1 551.15" stroke-width="1.25"/>
<path d="M878.7 554.1L886.1 554.1" stroke-width="1.25"/>
<path d="M878.7 557.05L886.1 557.05" stroke-width="1.25"/>
<path d="M878.7 560L886.1 560" stroke-width="1.25"/>
<path d="M878.7 562.95L886.1 562.95" stroke-width="1.25"/>
<path d="M878.7 565.9L886.1 565.9" stroke-width="1.25"/>
<path d="M878.7 568.85L886.1 568.85" stroke-width="1.25"/>
<path d="M878.7 571.8L886.1 571.8" stroke-width="1.25"/>
<path d="M878.7 574.75L886.1 574.75" stroke-width="1.25"/>
<path d="M878.7 577.7L886.1 577.7" stroke-width="1.25"/>
<path d="M878.7 580.65L886.1 580.65" stroke-width="1.25"/>
<path d="M878.7 583.6L886.1 583.6" stroke-width="1.25"/>
<path d="M878.7 586.55L886.1 586.55" stroke-width="1.25"/>
<path d="M878.7 589.5L886.1 589.5" stroke-width="1.25"/>
<path d="M878.7 592.45L886.1 592.45" stroke-width="1.25"/>
<path d="M878.7 595.4L886.1 595.4" stroke-width="1.25"/>
<path d="M878.7 598.35L886.1 598.35" stroke-width="1.25"/>
<path d="M878.7 601.3L886.1 601.3" stroke-width="1.25"/>
<path d="M878.7 604.25L886.1 604.25" stroke-width="1.25"/>
<path d="M878.7 607.2L886.1 607.2" stroke-width="1.25"/>
<path d="M878.7 610.15L886.1 610.15" stroke-width="1.25"/>
<path d="M878.7 613.1L886.1 613.1" stroke-width="1.25"/>
<path d="M878.7 616.05L886.1 616.05" stroke-width="1.25"/>
<path d="M878.7 619L886.1 619" stroke-width="1.25"/>
<polyline points="697.7,546 697.7,617.2 699.6,620 716,620 717.8,617.5 717.8,546"/>
<path d="M699.3 546L699.3 616.25"/>
<path d="M716 546L716 616.25"/>
<path d="M697.7 616.25L716 616.25"/>
<rect x="701.4" y="559.4" width="10.8" height="37.2"/>
<polyline points="700,620 715,636.9 718.75,636.9 718.75,633"/>
<path d="M703 620L718.75 636"/>
<path d="M706 620L718.75 633"/>
<polyline points="712,620 728.5,636.9 732.8,636.9 732.8,632.2 718.75,616.25"/>
<path d="M715 620L732.8 636.5"/>
<path d="M718.75 545.3L729 561.25"/>
<path d="M688.74 594.53L702.34 608.53A6.5 6.5 0 0 0 711.66 599.47L698.06 585.47" fill="#fff"/>
<path d="M662.46 563.43L688.86 593.93A6 6 0 0 0 697.94 586.07L671.54 555.57" fill="#fff"/>
<path d="M698.14 585.26A6.7 6.7 0 0 1 688.66 594.74"/>
<path d="M648.83 548.35L661.93 563.85A6.9 6.9 0 0 0 672.47 554.95L659.37 539.45" fill="#fff"/>
<path d="M699.95 536.7L663.55 544.4A4.6 4.6 0 0 0 665.45 553.4L701.85 545.7" fill="#fff"/>
<ellipse cx="674.93" cy="546.65" rx="2.4" ry="6.8" transform="rotate(-12 674.93 546.65)" fill="#fff"/>
<ellipse cx="677.27" cy="546.15" rx="2.4" ry="6.8" transform="rotate(-12 677.27 546.15)" fill="#fff"/>
<circle cx="654.1" cy="543.9" r="6.9" fill="#fff"/>
<circle cx="654.1" cy="543.9" r="5.6"/>
<circle cx="654.1" cy="543.9" r="3.6"/>
<path d="M662.98 502.63L689.83 532.23A6.3 6.3 0 0 0 699.17 523.77L672.32 494.17" fill="#fff"/>
<path d="M699.45 523.05A7 7 0 0 1 689.55 532.95"/>
<path d="M648.63 487.21L661.03 500.51A7.2 7.2 0 0 0 671.57 490.69L659.17 477.39" fill="#fff"/>
<path d="M703.62 440.95L661.12 481.45A4.9 4.9 0 0 0 667.88 488.55L710.38 448.05" fill="#fff"/>
<ellipse cx="678.16" cy="471.77" rx="2.4" ry="7" transform="rotate(136 678.16 471.77)" fill="#fff"/>
<ellipse cx="676.44" cy="473.43" rx="2.4" ry="7" transform="rotate(136 676.44 473.43)" fill="#fff"/>
<circle cx="653.9" cy="482.3" r="6.9" fill="#fff"/>
<circle cx="653.9" cy="482.3" r="5.6"/>
<circle cx="653.9" cy="482.3" r="3.8"/>
<path d="M817.19 479.43L829.65 503.68A35.7 35.7 0 0 1 775.94 548.15L754.45 531.38" fill="#fff"/>
<circle cx="780.1" cy="498.5" r="41.7" fill="#fff"/>
<path d="M782.46 468.64A19.6 19.6 0 1 1 751.63 492.3L755.09 490.3A15.6 15.6 0 1 0 779.63 471.47Z" fill="#fff"/>
<circle cx="782.23" cy="471.36" r="0.9" stroke-width="0.8"/>
<circle cx="784.17" cy="474.29" r="0.9" stroke-width="0.8"/>
<circle cx="785.49" cy="477.55" r="0.9" stroke-width="0.8"/>
<circle cx="786.14" cy="481.01" r="0.9" stroke-width="0.8"/>
<circle cx="786.08" cy="484.53" r="0.9" stroke-width="0.8"/>
<circle cx="785.33" cy="487.96" r="0.9" stroke-width="0.8"/>
<circle cx="783.91" cy="491.18" r="0.9" stroke-width="0.8"/>
<circle cx="781.88" cy="494.05" r="0.9" stroke-width="0.8"/>
<circle cx="779.31" cy="496.46" r="0.9" stroke-width="0.8"/>
<circle cx="776.32" cy="498.31" r="0.9" stroke-width="0.8"/>
<circle cx="773.02" cy="499.53" r="0.9" stroke-width="0.8"/>
<circle cx="769.55" cy="500.07" r="0.9" stroke-width="0.8"/>
<circle cx="766.03" cy="499.91" r="0.9" stroke-width="0.8"/>
<circle cx="762.62" cy="499.05" r="0.9" stroke-width="0.8"/>
<circle cx="759.45" cy="497.53" r="0.9" stroke-width="0.8"/>
<circle cx="756.64" cy="495.41" r="0.9" stroke-width="0.8"/>
<circle cx="754.31" cy="492.78" r="0.9" stroke-width="0.8"/>
<path d="M779.7 469.5L732 432Q724 425 716.5 430.5L709.2 436L714.4 443.5L718.3 439.6Q720 437.8 721.3 439.8L752.4 492.5A16 16 0 0 0 779.7 469.5Z" fill="#fff"/>
<ellipse cx="710.06" cy="441.67" rx="3.1" ry="8.9" transform="rotate(136 710.06 441.67)" fill="#fff"/>
<ellipse cx="708.34" cy="443.33" rx="3.1" ry="8.9" transform="rotate(136 708.34 443.33)" fill="#fff"/>
<ellipse cx="748.8" cy="468.8" rx="9.7" ry="3.4" transform="rotate(48 748.8 468.8)" fill="#fff"/>
<ellipse cx="748.8" cy="468.8" rx="8.2" ry="2.2" transform="rotate(48 748.8 468.8)"/>
<ellipse cx="802.7" cy="491.1" rx="7.6" ry="13.2" transform="rotate(12 802.7 491.1)" fill="#fff"/>
<ellipse cx="802.7" cy="491.1" rx="6.1" ry="11.7" transform="rotate(12 802.7 491.1)"/>
<g transform="rotate(12 802.7 491.1)"><path d="M802.7 479.4V502.8M797.3 494.6L808.1 487.6M797.6 487.1L807.8 495.1"/></g>
<circle cx="800.3" cy="504.6" r="1.3" fill="#fff" stroke-width="1"/>
<rect x="781.45" y="516.7" width="9.5" height="3.4" rx="1.7" fill="#fff" transform="rotate(55 786.2 518.4)"/>
<rect x="816.9" y="544.8" width="9" height="3.2" rx="1.6" fill="#fff" transform="rotate(60 821.4 546.4)"/>
<path d="M810.25 590.25L819.76 613.21A29.5 29.5 0 0 1 774.61 647.96L754.85 632.88" fill="#fff"/>
<circle cx="776.8" cy="604.1" r="36.2" fill="#fff"/>
<path d="M782.94 579.56A19 19 0 1 1 753.05 602.5L756.34 600.6A15.2 15.2 0 1 0 780.25 582.25Z" fill="#fff"/>
<circle cx="782.74" cy="582.18" r="0.9" stroke-width="0.8"/>
<circle cx="784.63" cy="585.03" r="0.9" stroke-width="0.8"/>
<circle cx="785.91" cy="588.19" r="0.9" stroke-width="0.8"/>
<circle cx="786.54" cy="591.55" r="0.9" stroke-width="0.8"/>
<circle cx="786.49" cy="594.97" r="0.9" stroke-width="0.8"/>
<circle cx="785.75" cy="598.31" r="0.9" stroke-width="0.8"/>
<circle cx="784.37" cy="601.44" r="0.9" stroke-width="0.8"/>
<circle cx="782.4" cy="604.23" r="0.9" stroke-width="0.8"/>
<circle cx="779.91" cy="606.57" r="0.9" stroke-width="0.8"/>
<circle cx="777" cy="608.37" r="0.9" stroke-width="0.8"/>
<circle cx="773.8" cy="609.55" r="0.9" stroke-width="0.8"/>
<circle cx="770.42" cy="610.08" r="0.9" stroke-width="0.8"/>
<circle cx="767.01" cy="609.92" r="0.9" stroke-width="0.8"/>
<circle cx="763.69" cy="609.08" r="0.9" stroke-width="0.8"/>
<circle cx="760.61" cy="607.61" r="0.9" stroke-width="0.8"/>
<circle cx="757.88" cy="605.55" r="0.9" stroke-width="0.8"/>
<circle cx="755.62" cy="602.99" r="0.9" stroke-width="0.8"/>
<path d="M781 580L741 548Q730 536 711.25 533.6L711.25 543.4Q717.5 544 719.7 545.3L752.4 602.5A15.8 15.8 0 0 0 781 580Z" fill="#fff"/>
<ellipse cx="706.11" cy="539.83" rx="3.2" ry="10.3" transform="rotate(-6 706.11 539.83)" fill="#fff"/>
<ellipse cx="708.49" cy="539.57" rx="3.2" ry="10.3" transform="rotate(-6 708.49 539.57)" fill="#fff"/>
<ellipse cx="748.8" cy="578.1" rx="9.7" ry="3.4" transform="rotate(48 748.8 578.1)" fill="#fff"/>
<ellipse cx="748.8" cy="578.1" rx="8.2" ry="2.2" transform="rotate(48 748.8 578.1)"/>
<ellipse cx="796.9" cy="597.5" rx="6.8" ry="11.6" transform="rotate(12 796.9 597.5)" fill="#fff"/>
<ellipse cx="796.9" cy="597.5" rx="5.3" ry="10.1" transform="rotate(12 796.9 597.5)"/>
<g transform="rotate(12 796.9 597.5)"><path d="M796.9 587.4V607.6M792.3 601L801.5 594M792.6 593.5L801.2 601.5"/></g>
<circle cx="794.2" cy="609.3" r="1.3" fill="#fff" stroke-width="1"/>
<rect x="778.25" y="620.4" width="8.5" height="3.2" rx="1.6" fill="#fff" transform="rotate(55 782.5 622)"/>
<rect x="808.2" y="644" width="9" height="3.2" rx="1.6" fill="#fff" transform="rotate(60 812.7 645.6)"/>
<path d="M718.75 545.3L729 561.25"/>
<path d="M979.41 777.12L993.11 805.12A2.1 2.1 0 0 0 996.89 803.28L983.19 775.28" fill="#fff"/>
<path d="M927.13 809.13L941.98 832.38A2.1 2.1 0 0 0 945.52 830.12L930.67 806.87" fill="#fff"/>
<path d="M959.88 735.96L977.68 769.04A32 32 0 0 1 923.58 802.96L901.55 772.53" fill="#fff"/>
<circle cx="929.5" cy="752.3" r="34.5" fill="#fff"/>
<circle cx="932.58" cy="734.14" r="0.85" stroke-width="0.75"/>
<circle cx="934.91" cy="735.19" r="0.85" stroke-width="0.75"/>
<circle cx="937.07" cy="736.57" r="0.85" stroke-width="0.75"/>
<circle cx="938.99" cy="738.26" r="0.85" stroke-width="0.75"/>
<circle cx="940.64" cy="740.22" r="0.85" stroke-width="0.75"/>
<circle cx="941.98" cy="742.4" r="0.85" stroke-width="0.75"/>
<circle cx="942.98" cy="744.75" r="0.85" stroke-width="0.75"/>
<circle cx="943.62" cy="747.23" r="0.85" stroke-width="0.75"/>
<circle cx="943.89" cy="749.77" r="0.85" stroke-width="0.75"/>
<circle cx="943.78" cy="752.33" r="0.85" stroke-width="0.75"/>
<circle cx="943.29" cy="754.84" r="0.85" stroke-width="0.75"/>
<circle cx="942.43" cy="757.25" r="0.85" stroke-width="0.75"/>
<circle cx="941.23" cy="759.5" r="0.85" stroke-width="0.75"/>
<circle cx="939.7" cy="761.56" r="0.85" stroke-width="0.75"/>
<circle cx="937.89" cy="763.36" r="0.85" stroke-width="0.75"/>
<circle cx="935.83" cy="764.88" r="0.85" stroke-width="0.75"/>
<circle cx="933.57" cy="766.07" r="0.85" stroke-width="0.75"/>
<circle cx="931.15" cy="766.91" r="0.85" stroke-width="0.75"/>
<circle cx="928.64" cy="767.39" r="0.85" stroke-width="0.75"/>
<circle cx="926.08" cy="767.49" r="0.85" stroke-width="0.75"/>
<circle cx="923.54" cy="767.21" r="0.85" stroke-width="0.75"/>
<circle cx="921.07" cy="766.55" r="0.85" stroke-width="0.75"/>
<circle cx="918.72" cy="765.54" r="0.85" stroke-width="0.75"/>
<circle cx="916.55" cy="764.18" r="0.85" stroke-width="0.75"/>
<circle cx="914.6" cy="762.52" r="0.85" stroke-width="0.75"/>
<circle cx="912.92" cy="760.59" r="0.85" stroke-width="0.75"/>
<circle cx="911.55" cy="758.44" r="0.85" stroke-width="0.75"/>
<circle cx="910.51" cy="756.1" r="0.85" stroke-width="0.75"/>
<circle cx="909.83" cy="753.63" r="0.85" stroke-width="0.75"/>
<circle cx="909.52" cy="751.09" r="0.85" stroke-width="0.75"/>
<circle cx="909.59" cy="748.54" r="0.85" stroke-width="0.75"/>
<circle cx="910.04" cy="746.02" r="0.85" stroke-width="0.75"/>
<circle cx="910.86" cy="743.6" r="0.85" stroke-width="0.75"/>
<circle cx="912.03" cy="741.32" r="0.85" stroke-width="0.75"/>
<circle cx="926.7" cy="750.3" r="12.2" fill="#fff"/>
<circle cx="925.9" cy="749.3" r="7.2"/>
<ellipse cx="921" cy="714.4" rx="4.6" ry="11.5" transform="rotate(3 921 714.4)" fill="#fff"/>
<path d="M919.5 725.5L918.5 731.5"/>
<path d="M926.64 743.58L900.04 715.48A5.7 5.7 0 0 0 891.76 723.32L918.36 751.42" fill="#fff"/>
<circle cx="895.9" cy="719.4" r="5.7" fill="#fff"/>
<path d="M931.33 744.78L921.23 732.78A5 5 0 0 0 913.57 739.22L923.67 751.22" fill="#fff"/>
<circle cx="917.4" cy="736" r="5" fill="#fff"/>
<path d="M932.67 751.76A7.2 7.2 0 0 1 918.81 750.55"/>
<path d="M573.39 757.14L593.56 791.57A24 24 0 0 1 556.28 821.06L527.41 793.51" fill="#fff"/>
<path d="M576.2 763.6L595.84 796.81"/>
<path d="M577.28 775.24L596.71 806.25"/>
<path d="M573.77 786.39L593.87 815.29"/>
<path d="M566.22 795.31L587.74 822.52"/>
<path d="M555.79 800.61L579.29 826.82"/>
<path d="M544.13 801.47L569.84 827.51"/>
<path d="M533.05 797.74L560.85 824.49"/>
<path d="M579.44 767.47A27.92 27.92 0 0 1 536.07 801.78"/>
<path d="M584.48 776.08A26.52 26.52 0 0 1 543.29 808.67"/>
<path d="M589.53 784.68A25.12 25.12 0 0 1 550.51 815.55"/>
<ellipse cx="585.1" cy="799.74" rx="3.4" ry="1.5" transform="rotate(110.21 585.1 799.74)" fill="#EB5B45" stroke-width="0.5"/>
<ellipse cx="582.7" cy="806.21" rx="3.4" ry="1.5" transform="rotate(126.05 582.7 806.21)" fill="#EB5B45" stroke-width="0.5"/>
<circle cx="547.85" cy="772.1" r="29.6" fill="#fff"/>
<circle cx="547.85" cy="772.1" r="27.4"/>
<path d="M534.65 791.24C534 790.72 531.67 789.49 530.76 788.13C529.85 786.78 529.94 784.65 529.19 783.1C528.44 781.56 526.97 780.43 526.28 778.84C525.59 777.26 525 775.33 525.05 773.6C525.1 771.87 526.13 770.16 526.58 768.44C527.03 766.72 527.06 764.84 527.75 763.27C528.43 761.7 529.43 760.05 530.69 759C531.95 757.95 533.98 758.02 535.3 756.98C536.61 755.94 537.23 753.61 538.58 752.77C539.94 751.94 541.84 751.97 543.44 751.99C545.03 752 546.67 752.38 548.17 752.85C549.66 753.32 550.82 754.45 552.41 754.81C553.99 755.17 556.29 754.24 557.66 755C559.03 755.77 560.11 758.66 560.6 759.4" stroke-width="1.2"/>
<path d="M556.85 751.1A23 23 0 0 1 569.35 764.1" stroke-width="1.2"/>
<ellipse cx="543.84" cy="759.99" rx="1.8" ry="1.3" transform="rotate(71.09 543.84 759.99)" stroke-width="1.1"/>
<path d="M549.82 764.13q1.38 -0.59 2.15 1.46" stroke-width="1.2"/>
<path d="M550.29 769.82q0.99 1.13 -0.73 2.5" stroke-width="1.2"/>
<ellipse cx="549.68" cy="786.57" rx="1.8" ry="1.3" transform="rotate(78.51 549.68 786.57)" stroke-width="1.1"/>
<path d="M541.35 767.49q-1.5 -0.07 -1.3 -2.25" stroke-width="1.2"/>
<path d="M540.49 778.65q-1.29 -0.76 -0.09 -2.6" stroke-width="1.2"/>
<ellipse cx="535.35" cy="766.37" rx="1.8" ry="1.3" transform="rotate(122.76 535.35 766.37)" stroke-width="1.1"/>
<path d="M558.55 767.49q1.5 -0.09 1.53 2.1" stroke-width="1.2"/>
<path d="M544.03 767.87q0.96 -1.15 2.58 0.32" stroke-width="1.2"/>
<ellipse cx="559.85" cy="770.16" rx="1.8" ry="1.3" transform="rotate(102.44 559.85 770.16)" stroke-width="1.1"/>
<path d="M545.35 766.6q0.74 -1.31 2.6 -0.15" stroke-width="1.2"/>
<path d="M635.69 757.14L655.86 791.57A24 24 0 0 1 618.58 821.06L589.71 793.51" fill="#fff"/>
<path d="M638.5 763.6L658.14 796.81"/>
<path d="M639.58 775.24L659.01 806.25"/>
<path d="M636.07 786.39L656.17 815.29"/>
<path d="M628.52 795.31L650.04 822.52"/>
<path d="M618.09 800.61L641.59 826.82"/>
<path d="M606.43 801.47L632.14 827.51"/>
<path d="M595.35 797.74L623.15 824.49"/>
<path d="M641.74 767.47A27.92 27.92 0 0 1 598.37 801.78"/>
<path d="M646.78 776.08A26.52 26.52 0 0 1 605.59 808.67"/>
<path d="M651.83 784.68A25.12 25.12 0 0 1 612.81 815.55"/>
<ellipse cx="643.08" cy="793.11" rx="3.4" ry="1.5" transform="rotate(109.98 643.08 793.11)" fill="#EB5B45" stroke-width="0.5"/>
<ellipse cx="639.6" cy="800.9" rx="3.4" ry="1.5" transform="rotate(129.18 639.6 800.9)" fill="#EB5B45" stroke-width="0.5"/>
<circle cx="610.15" cy="772.1" r="29.6" fill="#fff"/>
<circle cx="610.15" cy="772.1" r="27.4"/>
<path d="M597.53 790.32C596.93 789.82 595.26 788.31 593.93 787.29C592.61 786.27 590.57 785.57 589.59 784.19C588.61 782.8 588.41 780.75 588.06 778.98C587.72 777.22 587.51 775.39 587.52 773.6C587.54 771.81 587.5 769.83 588.14 768.24C588.78 766.64 590.45 765.46 591.38 764.04C592.32 762.62 592.85 761.13 593.74 759.72C594.63 758.31 595.52 756.74 596.71 755.59C597.91 754.45 599.42 753.58 600.91 752.85C602.4 752.11 604.02 751.49 605.65 751.2C607.27 750.91 609.14 750.55 610.66 751.12C612.18 751.7 613.28 753.9 614.76 754.66C616.24 755.41 618.13 754.92 619.55 755.64C620.98 756.37 622.68 758.44 623.31 759" stroke-width="1.2"/>
<path d="M619.15 751.1A23 23 0 0 1 631.65 764.1" stroke-width="1.2"/>
<ellipse cx="604.62" cy="773.86" rx="1.8" ry="1.3" transform="rotate(168.23 604.62 773.86)" stroke-width="1.1"/>
<path d="M616.08 765.28q-0.47 1.43 -2.52 0.66" stroke-width="1.2"/>
<path d="M618.12 767.32q1.11 -1.01 2.51 0.67" stroke-width="1.2"/>
<ellipse cx="614.97" cy="764.87" rx="1.8" ry="1.3" transform="rotate(74.51 614.97 764.87)" stroke-width="1.1"/>
<path d="M601.58 767.68q0.79 1.27 -1.11 2.35" stroke-width="1.2"/>
<path d="M604.86 785q1.44 0.4 0.77 2.48" stroke-width="1.2"/>
<ellipse cx="619.83" cy="776.3" rx="1.8" ry="1.3" transform="rotate(50.48 619.83 776.3)" stroke-width="1.1"/>
<path d="M599.66 771q-0.83 1.25 -2.6 -0.03" stroke-width="1.2"/>
<path d="M615.59 772.99q-1.28 0.78 -2.34 -1.14" stroke-width="1.2"/>
<ellipse cx="612.43" cy="783.81" rx="1.8" ry="1.3" transform="rotate(49.73 612.43 783.81)" stroke-width="1.1"/>
<path d="M601.66 782.65q-0.64 1.35 -2.58 0.33" stroke-width="1.2"/>
<path d="M697.99 757.14L718.16 791.57A24 24 0 0 1 680.88 821.06L652.01 793.51" fill="#fff"/>
<path d="M700.8 763.6L720.44 796.81"/>
<path d="M701.88 775.24L721.31 806.25"/>
<path d="M698.37 786.39L718.47 815.29"/>
<path d="M690.82 795.31L712.34 822.52"/>
<path d="M680.39 800.61L703.89 826.82"/>
<path d="M668.73 801.47L694.44 827.51"/>
<path d="M657.65 797.74L685.45 824.49"/>
<path d="M704.04 767.47A27.92 27.92 0 0 1 660.67 801.78"/>
<path d="M709.08 776.08A26.52 26.52 0 0 1 667.89 808.67"/>
<path d="M714.13 784.68A25.12 25.12 0 0 1 675.11 815.55"/>
<ellipse cx="699.51" cy="815.56" rx="3.4" ry="1.5" transform="rotate(156.4 699.51 815.56)" fill="#EB5B45" stroke-width="0.5"/>
<ellipse cx="694.1" cy="820.02" rx="3.4" ry="1.5" transform="rotate(177.07 694.1 820.02)" fill="#EB5B45" stroke-width="0.5"/>
<circle cx="672.45" cy="772.1" r="29.6" fill="#fff"/>
<circle cx="672.45" cy="772.1" r="27.4"/>
<path d="M659.61 790.67C658.93 790.21 656.7 789.11 655.55 787.94C654.41 786.78 653.26 785.29 652.75 783.69C652.25 782.1 652.77 780.08 652.55 778.4C652.33 776.71 651.57 775.23 651.45 773.6C651.33 771.97 651.76 770.38 651.84 768.61C651.91 766.85 651.37 764.66 651.92 763.03C652.46 761.39 653.79 759.86 655.1 758.81C656.4 757.77 658.41 757.77 659.75 756.75C661.09 755.72 661.74 753.23 663.15 752.66C664.55 752.09 666.56 753.46 668.19 753.33C669.81 753.21 671.39 751.71 672.87 751.91C674.36 752.11 675.76 753.67 677.1 754.54C678.44 755.42 679.42 756.46 680.91 757.14C682.39 757.81 685.17 758.36 686.02 758.6" stroke-width="1.2"/>
<path d="M681.45 751.1A23 23 0 0 1 693.95 764.1" stroke-width="1.2"/>
<ellipse cx="684.47" cy="771.65" rx="1.8" ry="1.3" transform="rotate(52.07 684.47 771.65)" stroke-width="1.1"/>
<path d="M681.52 770.61q-0.66 -1.35 1.35 -2.22" stroke-width="1.2"/>
<path d="M675.26 786.14q-0.55 -1.4 1.53 -2.11" stroke-width="1.2"/>
<ellipse cx="684.41" cy="770.33" rx="1.8" ry="1.3" transform="rotate(53.78 684.41 770.33)" stroke-width="1.1"/>
<path d="M667.6 777.68q0.91 1.19 -0.88 2.45" stroke-width="1.2"/>
<path d="M678.66 776.23q-1.2 -0.91 0.2 -2.59" stroke-width="1.2"/>
<ellipse cx="683.03" cy="773.35" rx="1.8" ry="1.3" transform="rotate(60.82 683.03 773.35)" stroke-width="1.1"/>
<path d="M666.78 784.9q-1.49 0.18 -1.66 -2" stroke-width="1.2"/>
<path d="M667.51 782.09q-0.42 -1.44 1.7 -1.96" stroke-width="1.2"/>
<ellipse cx="684.4" cy="777.95" rx="1.8" ry="1.3" transform="rotate(4.12 684.4 777.95)" stroke-width="1.1"/>
<path d="M671.43 760.21q1.49 0.17 1.15 2.33" stroke-width="1.2"/>
<path d="M760.29 757.14L780.46 791.57A24 24 0 0 1 743.18 821.06L714.31 793.51" fill="#fff"/>
<path d="M763.1 763.6L782.74 796.81"/>
<path d="M764.18 775.24L783.61 806.25"/>
<path d="M760.67 786.39L780.77 815.29"/>
<path d="M753.12 795.31L774.64 822.52"/>
<path d="M742.69 800.61L766.19 826.82"/>
<path d="M731.03 801.47L756.74 827.51"/>
<path d="M719.95 797.74L747.75 824.49"/>
<path d="M766.34 767.47A27.92 27.92 0 0 1 722.97 801.78"/>
<path d="M771.38 776.08A26.52 26.52 0 0 1 730.19 808.67"/>
<path d="M776.43 784.68A25.12 25.12 0 0 1 737.41 815.55"/>
<ellipse cx="755" cy="818.45" rx="3.4" ry="1.5" transform="rotate(176.85 755 818.45)" fill="#EB5B45" stroke-width="0.5"/>
<ellipse cx="762.18" cy="805.57" rx="3.4" ry="1.5" transform="rotate(139.86 762.18 805.57)" fill="#EB5B45" stroke-width="0.5"/>
<circle cx="734.75" cy="772.1" r="29.6" fill="#fff"/>
<circle cx="734.75" cy="772.1" r="27.4"/>
<path d="M721.65 791.08C721.02 790.56 719.01 789.14 717.87 787.93C716.72 786.73 715.37 785.41 714.79 783.85C714.21 782.28 714.7 780.23 714.37 778.52C714.04 776.82 713.1 775.31 712.82 773.6C712.55 771.89 712.23 769.85 712.73 768.24C713.22 766.62 715.04 765.52 715.81 763.94C716.57 762.35 716.42 760.15 717.32 758.74C718.22 757.32 719.88 756.48 721.22 755.45C722.57 754.41 723.87 752.98 725.4 752.53C726.93 752.08 728.82 752.59 730.42 752.75C732.02 752.9 733.39 753.48 735 753.47C736.61 753.45 738.48 752.37 740.06 752.65C741.64 752.94 743.23 754.02 744.46 755.15C745.69 756.29 746.95 758.74 747.44 759.45" stroke-width="1.2"/>
<path d="M743.75 751.1A23 23 0 0 1 756.25 764.1" stroke-width="1.2"/>
<ellipse cx="728.63" cy="767.3" rx="1.8" ry="1.3" transform="rotate(171.25 728.63 767.3)" stroke-width="1.1"/>
<path d="M728.21 769.66q-0.84 -1.24 1.03 -2.39" stroke-width="1.2"/>
<path d="M725.1 783.51q1.26 -0.81 2.36 1.09" stroke-width="1.2"/>
<ellipse cx="722.5" cy="772.06" rx="1.8" ry="1.3" transform="rotate(125.62 722.5 772.06)" stroke-width="1.1"/>
<path d="M738.48 760.1q1.48 0.27 0.99 2.4" stroke-width="1.2"/>
<path d="M726.71 781.46q-0.5 1.41 -2.53 0.59" stroke-width="1.2"/>
<ellipse cx="729.85" cy="770.66" rx="1.8" ry="1.3" transform="rotate(158.41 729.85 770.66)" stroke-width="1.1"/>
<path d="M728.68 772.29q-0.78 -1.28 1.13 -2.34" stroke-width="1.2"/>
<path d="M731.29 779.06q-1.49 0.15 -1.62 -2.03" stroke-width="1.2"/>
<ellipse cx="738.05" cy="778.17" rx="1.8" ry="1.3" transform="rotate(155.8 738.05 778.17)" stroke-width="1.1"/>
<path d="M732.95 770.72q0.26 -1.48 2.4 -1" stroke-width="1.2"/>
<path d="M822.59 757.14L842.76 791.57A24 24 0 0 1 805.48 821.06L776.61 793.51" fill="#fff"/>
<path d="M825.4 763.6L845.04 796.81"/>
<path d="M826.48 775.24L845.91 806.25"/>
<path d="M822.97 786.39L843.07 815.29"/>
<path d="M815.42 795.31L836.94 822.52"/>
<path d="M804.99 800.61L828.49 826.82"/>
<path d="M793.33 801.47L819.04 827.51"/>
<path d="M782.25 797.74L810.05 824.49"/>
<path d="M828.64 767.47A27.92 27.92 0 0 1 785.27 801.78"/>
<path d="M833.68 776.08A26.52 26.52 0 0 1 792.49 808.67"/>
<path d="M838.73 784.68A25.12 25.12 0 0 1 799.71 815.55"/>
<ellipse cx="828.55" cy="797.84" rx="3.4" ry="1.5" transform="rotate(120.51 828.55 797.84)" fill="#EB5B45" stroke-width="0.5"/>
<ellipse cx="815.16" cy="807.23" rx="3.4" ry="1.5" transform="rotate(159.76 815.16 807.23)" fill="#EB5B45" stroke-width="0.5"/>
<circle cx="797.05" cy="772.1" r="29.6" fill="#fff"/>
<circle cx="797.05" cy="772.1" r="27.4"/>
<path d="M783.3 792.1C782.92 791.27 781.87 788.59 781.02 787.11C780.17 785.63 779.13 784.58 778.21 783.21C777.29 781.83 776.2 780.44 775.5 778.84C774.81 777.24 774.01 775.34 774.03 773.6C774.06 771.86 775.01 770.04 775.64 768.4C776.26 766.76 777.18 765.42 777.79 763.75C778.39 762.09 778.14 759.52 779.26 758.4C780.38 757.27 783.12 758.01 784.52 757.03C785.93 756.04 786.32 753.18 787.69 752.49C789.05 751.8 791.13 752.75 792.74 752.88C794.34 753.02 795.82 753.04 797.32 753.32C798.81 753.6 800.24 754.06 801.69 754.57C803.14 755.08 804.52 755.69 805.99 756.38C807.46 757.07 809.75 758.32 810.51 758.71" stroke-width="1.2"/>
<path d="M806.05 751.1A23 23 0 0 1 818.55 764.1" stroke-width="1.2"/>
<ellipse cx="790.47" cy="766.45" rx="1.8" ry="1.3" transform="rotate(98.59 790.47 766.45)" stroke-width="1.1"/>
<path d="M799.67 774.61q0.41 1.44 -1.72 1.95" stroke-width="1.2"/>
<path d="M792.12 764.7q-0.59 1.38 -2.56 0.43" stroke-width="1.2"/>
<ellipse cx="787.86" cy="768.22" rx="1.8" ry="1.3" transform="rotate(53.96 787.86 768.22)" stroke-width="1.1"/>
<path d="M799.28 761.8q0.06 1.5 -2.13 1.49" stroke-width="1.2"/>
<path d="M786.91 768.49q1.06 -1.06 2.54 0.56" stroke-width="1.2"/>
<ellipse cx="795.06" cy="765.47" rx="1.8" ry="1.3" transform="rotate(176.43 795.06 765.47)" stroke-width="1.1"/>
<path d="M802.82 779.3q0.07 -1.5 2.25 -1.31" stroke-width="1.2"/>
<path d="M801.76 781.17q1.45 0.37 0.83 2.46" stroke-width="1.2"/>
<ellipse cx="790.01" cy="762.41" rx="1.8" ry="1.3" transform="rotate(103.14 790.01 762.41)" stroke-width="1.1"/>
<path d="M801.73 767.45q-0.51 -1.41 1.59 -2.06" stroke-width="1.2"/>
<polyline points="239.75,300 265,328.2"/>
<polyline points="245.6,298.5 271.25,328.2"/>
<ellipse cx="242.5" cy="299" rx="3.2" ry="1.5" transform="rotate(25 242.5 299)" fill="#fff"/>
<polyline points="272.5,300 297.75,328.2"/>
<polyline points="278.35,298.5 304,328.2"/>
<ellipse cx="275.25" cy="299" rx="3.2" ry="1.5" transform="rotate(25 275.25 299)" fill="#fff"/>
<polygon points="252.9,340.25 318.5,340.25 318.5,365.6 252.9,365.6" fill="#fff"/>
<polyline points="318.5,340.25 340,362.5 340,390 275,390 252.9,365.6"/>
<path d="M318.5 365.6L340 390"/>
<path d="M262.27 365.6L284.37 390"/>
<path d="M271.64 365.6L293.74 390"/>
<path d="M281.01 365.6L303.11 390"/>
<path d="M290.38 365.6L312.48 390"/>
<path d="M299.75 365.6L321.85 390"/>
<path d="M309.12 365.6L331.22 390"/>
<path d="M257.4 327.5H312.75V335.25H257.4A3.9 3.9 0 0 1 257.4 327.5Z" fill="#fff"/>
<ellipse cx="312.75" cy="331.35" rx="2.75" ry="3.9" fill="#fff"/>
<path d="M266.9 333Q266.9 330.4 269.4 330.4Q271.9 330.4 271.9 333V348.1H275.5Q277.7 348.1 277.7 350.3Q277.7 352.5 275.5 352.5H269.3Q266.9 352.5 266.9 350V333Z" fill="#fff"/>
<path d="M296.25 333Q296.25 330.4 298.75 330.4Q301.25 330.4 301.25 333V348.1H304.85Q307.05 348.1 307.05 350.3Q307.05 352.5 304.85 352.5H298.65Q296.25 352.5 296.25 350V333Z" fill="#fff"/>
<path d="M328 357.3H340Q351.5 357.5 351 369Q350.5 380 343.5 380Q338.5 379.5 338.8 372.5Q337 369 332.5 368.5L328 364.5Z" fill="#fff"/>
<path d="M332.5 368.5H341.5Q345.5 369.5 344.5 374"/>
<path d="M328 364.5L340.5 364.5"/>
</g>
<g style="opacity:0.99" text-rendering="geometricPrecision" fill="#222" stroke="none">
<text x="248.1" y="231.9" font-size="7.9" textLength="105" lengthAdjust="spacing" stroke="#222" stroke-width="0.22">EMPLOYEE ENTRANCE</text>
<text x="271.75" y="400" font-size="7.9" textLength="75.75" lengthAdjust="spacing" stroke="#222" stroke-width="0.22">BOILER ROOM /</text>
<text x="255" y="408.6" font-size="7.9" textLength="110" lengthAdjust="spacing" stroke="#222" stroke-width="0.22">HOT WATER HEATERS /</text>
<text x="271.75" y="417.1" font-size="7.9" textLength="75.75" lengthAdjust="spacing" stroke="#222" stroke-width="0.22">FIRE SPRINKLER</text>
<text x="275.75" y="491.75" font-size="7.9" textLength="29.75" lengthAdjust="spacing" stroke="#222" stroke-width="0.22">FOYER</text>
<text x="375.6" y="497.5" font-size="7.9" textLength="48.1" lengthAdjust="spacing" stroke="#222" stroke-width="0.22" transform="rotate(-90 375.6 497.5)">EMPLOYEE</text>
<text x="384.4" y="500" font-size="7.9" textLength="53.5" lengthAdjust="spacing" stroke="#222" stroke-width="0.22" transform="rotate(-90 384.4 500)">BATHROOM</text>
<text x="195.5" y="491.75" font-size="7.9" textLength="90" lengthAdjust="spacing" stroke="#222" stroke-width="0.22" transform="rotate(90 195.5 491.75)">PUBLIC ENTRANCE</text>
<text x="338.1" y="570.6" font-size="7.9" textLength="32.9" lengthAdjust="spacing" stroke="#222" stroke-width="0.22">PUBLIC</text>
<text x="327.5" y="579.4" font-size="7.9" textLength="53.75" lengthAdjust="spacing" stroke="#222" stroke-width="0.22">BATHROOM</text>
<text x="460.75" y="465.75" font-size="7.9" textLength="111.75" lengthAdjust="spacing" stroke="#222" stroke-width="0.22">BARREL STORAGE AREA</text>
<text x="462" y="650.5" font-size="7.9" textLength="46.75" lengthAdjust="spacing" stroke="#222" stroke-width="0.22">UNFILLED</text>
<text x="443.75" y="659.25" font-size="7.9" textLength="83.75" lengthAdjust="spacing" stroke="#222" stroke-width="0.22">BOTTLE STORAGE</text>
<text x="613" y="616.25" font-size="7.9" textLength="73.75" lengthAdjust="spacing" stroke="#222" stroke-width="0.22" transform="rotate(-90 613 616.25)">BOTTLING LINE</text>
<text x="253" y="715.75" font-size="7.9" textLength="132.5" lengthAdjust="spacing" stroke="#222" stroke-width="0.22">TASTING ROOM AND SHOP</text>
<text x="455.5" y="826.25" font-size="7.9" textLength="78.75" lengthAdjust="spacing" stroke="#222" stroke-width="0.22" transform="rotate(-90 455.5 826.25)">TAX-PAID ROOM</text>
<text x="463.75" y="812.5" font-size="7.9" textLength="48.25" lengthAdjust="spacing" stroke="#222" stroke-width="0.22" transform="rotate(-90 463.75 812.5)">(FEDERAL</text>
<text x="472" y="823" font-size="7.9" textLength="72.5" lengthAdjust="spacing" stroke="#222" stroke-width="0.22" transform="rotate(-90 472 823)">REQUIREMENT)</text>
<text x="713.75" y="370.5" font-size="7.9" textLength="178.75" lengthAdjust="spacing" stroke="#222" stroke-width="0.22">FIVE 26-GALLON (98-L) TEST STILLS</text>
<text x="926.25" y="385.5" font-size="7.9" textLength="115.75" lengthAdjust="spacing" stroke="#222" stroke-width="0.22">MASH-COOKING SETUP</text>
<text x="943.75" y="393.75" font-size="7.9" textLength="80.5" lengthAdjust="spacing" stroke="#222" stroke-width="0.22">FOR TEST STILLS</text>
<text x="1086.25" y="431.25" font-size="7.9" textLength="78" lengthAdjust="spacing" stroke="#222" stroke-width="0.22" transform="rotate(-90 1086.25 431.25)">LOADING DOCK</text>
<text x="900" y="576.25" font-size="7.9" textLength="67" lengthAdjust="spacing" stroke="#222" stroke-width="0.22" transform="rotate(-90 900 576.25)">FLOOR DRAIN</text>
<text x="917.5" y="497.5" font-size="7.9" textLength="29.5" lengthAdjust="spacing" stroke="#222" stroke-width="0.22">1-TON</text>
<text x="908.75" y="505.75" font-size="7.9" textLength="46.25" lengthAdjust="spacing" stroke="#222" stroke-width="0.22">TOTES OF</text>
<text x="918.75" y="514.25" font-size="7.9" textLength="26.75" lengthAdjust="spacing" stroke="#222" stroke-width="0.22">CORN</text>
<text x="803.25" y="567.5" font-size="7.9" textLength="63" lengthAdjust="spacing" stroke="#222" stroke-width="0.22">250-GALLON</text>
<text x="817.5" y="575.75" font-size="7.9" textLength="34.5" lengthAdjust="spacing" stroke="#222" stroke-width="0.22">(946-L)</text>
<text x="809.25" y="584.25" font-size="7.9" textLength="50.25" lengthAdjust="spacing" stroke="#222" stroke-width="0.22">STRIPPING</text>
<text x="822.5" y="592.5" font-size="7.9" textLength="23.75" lengthAdjust="spacing" stroke="#222" stroke-width="0.22">STILL</text>
<text x="759.5" y="667.5" font-size="7.9" textLength="61.75" lengthAdjust="spacing" stroke="#222" stroke-width="0.22">165-GALLON</text>
<text x="772.5" y="675.75" font-size="7.9" textLength="35" lengthAdjust="spacing" stroke="#222" stroke-width="0.22">(625-L)</text>
<text x="760.75" y="684.25" font-size="7.9" textLength="58.5" lengthAdjust="spacing" stroke="#222" stroke-width="0.22">SPIRIT STILL</text>
<text x="856.25" y="679.25" font-size="7.9" textLength="63" lengthAdjust="spacing" stroke="#222" stroke-width="0.22">250-GALLON</text>
<text x="870" y="687.5" font-size="7.9" textLength="35" lengthAdjust="spacing" stroke="#222" stroke-width="0.22">(946-L)</text>
<text x="851.75" y="695.5" font-size="7.9" textLength="72.5" lengthAdjust="spacing" stroke="#222" stroke-width="0.22">MASH COOKER</text>
<text x="899.5" y="629.5" font-size="7.9" textLength="52.25" lengthAdjust="spacing" stroke="#222" stroke-width="0.22">50-POUND</text>
<text x="906.25" y="638" font-size="7.9" textLength="37.5" lengthAdjust="spacing" stroke="#222" stroke-width="0.22">(23-KG)</text>
<text x="903.75" y="646.75" font-size="7.9" textLength="43" lengthAdjust="spacing" stroke="#222" stroke-width="0.22">BAGS OF</text>
<text x="900" y="655" font-size="7.9" textLength="50" lengthAdjust="spacing" stroke="#222" stroke-width="0.22">MALT AND</text>
<text x="917" y="663.75" font-size="7.9" textLength="16.25" lengthAdjust="spacing" stroke="#222" stroke-width="0.22">RYE</text>
<text x="663.75" y="727.5" font-size="7.9" textLength="178.75" lengthAdjust="spacing" stroke="#222" stroke-width="0.22">500-GALLON (1,892-L) FERMENTERS</text>
<text x="206" y="93.8" font-size="12.4" fill="#2b2b2b" textLength="258" lengthAdjust="spacing">FLOOR PLAN OF A CRAFT DISTILLERY</text>
<text x="97.5" y="140" font-size="9.85" fill="#444" textLength="474" lengthAdjust="spacing">This suggests the layout of a 3,500-square-foot (325 sq m) craft distillery, capable of distilling 500 gallons</text>
<text x="97.5" y="151.38" font-size="9.85" fill="#444" textLength="461.5" lengthAdjust="spacing">(1,892 L) of mash in a day in two runs, making about 35–40 gallons (132–150 L) of distillate from each</text>
<text x="97.5" y="162.75" font-size="9.85" fill="#444" textLength="458.5" lengthAdjust="spacing">run, or a little more than a 53-gallon (200-L) barrel each day. This drawing shows a 250-gallon (946-L)</text>
<text x="97.5" y="174.12" font-size="9.85" fill="#444" textLength="463.5" lengthAdjust="spacing">wash still, a 165-gallon (625-L) spirit still, five open-top oak fermenters, and a 250-gallon (946-L) mash</text>
<text x="97.5" y="185.5" font-size="9.85" fill="#444" textLength="457.5" lengthAdjust="spacing">cooker. While certainly not necessary, there is also a shop and tasting room, as many small distilleries</text>
<text x="707.5" y="140" font-size="9.85" fill="#444" textLength="466.5" lengthAdjust="spacing">benefit from offering tours and selling direct to customers. There is a small area devoted to barrel aging,</text>
<text x="707.5" y="151.38" font-size="9.85" fill="#444" textLength="437.5" lengthAdjust="spacing">though what is shown is much smaller than what would be needed to run at capacity. Many small</text>
<text x="707.5" y="162.75" font-size="9.85" fill="#444" textLength="236.5" lengthAdjust="spacing">distillers store barrels offsite in a bonded warehouse.</text>
</g>
</svg>
</body></html>
